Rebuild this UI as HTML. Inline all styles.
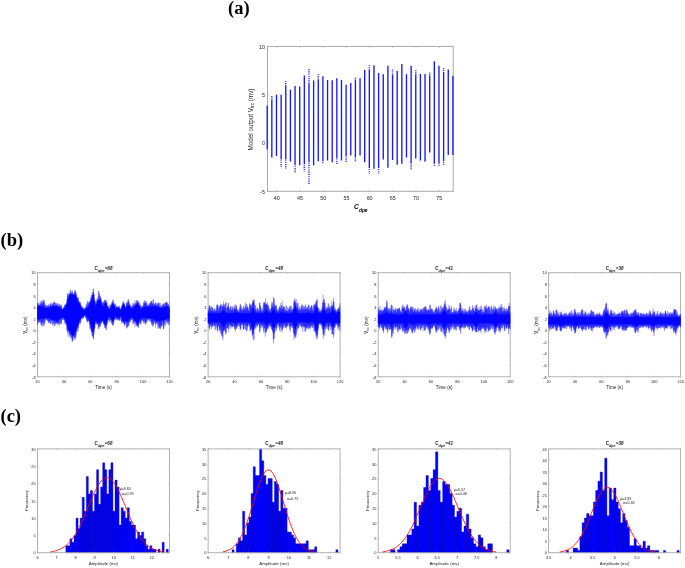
<!DOCTYPE html>
<html><head><meta charset="utf-8"><title>figure</title>
<style>
html,body{margin:0;padding:0;background:#fff;}
body{width:685px;height:568px;overflow:hidden;}
svg{display:block;font-family:"Liberation Sans", sans-serif;will-change:transform;}
</style></head><body>
<svg width="685" height="568" viewBox="0 0 685 568">
<rect width="685" height="568" fill="#fff"/>
<text x="228" y="14" font-family="'Liberation Serif', serif" font-weight="bold" font-size="18.5">(a)</text>
<text x="0.5" y="246" font-family="'Liberation Serif', serif" font-weight="bold" font-size="18.5">(b)</text>
<text x="0.5" y="421.7" font-family="'Liberation Serif', serif" font-weight="bold" font-size="18.5">(c)</text>
<g>
<path d="M276.79 191.30v-1.60M276.79 46.40v1.60M300.00 191.30v-1.60M300.00 46.40v1.60M323.21 191.30v-1.60M323.21 46.40v1.60M346.42 191.30v-1.60M346.42 46.40v1.60M369.63 191.30v-1.60M369.63 46.40v1.60M392.85 191.30v-1.60M392.85 46.40v1.60M416.06 191.30v-1.60M416.06 46.40v1.60M439.27 191.30v-1.60M439.27 46.40v1.60M267.50 191.30h1.60M453.20 191.30h-1.60M267.50 143.00h1.60M453.20 143.00h-1.60M267.50 94.70h1.60M453.20 94.70h-1.60M267.50 46.40h1.60M453.20 46.40h-1.60" stroke="#a9a9a9" stroke-width="0.6" fill="none"/>
<rect x="267.50" y="46.40" width="185.70" height="144.90" fill="none" stroke="#a9a9a9" stroke-width="1.00"/>
<g font-size="5.40" fill="#1e1e1e"><text x="276.79" y="200.30" text-anchor="middle">40</text><text x="300.00" y="200.30" text-anchor="middle">45</text><text x="323.21" y="200.30" text-anchor="middle">50</text><text x="346.42" y="200.30" text-anchor="middle">55</text><text x="369.63" y="200.30" text-anchor="middle">60</text><text x="392.85" y="200.30" text-anchor="middle">65</text><text x="416.06" y="200.30" text-anchor="middle">70</text><text x="439.27" y="200.30" text-anchor="middle">75</text><text x="264.90" y="193.78" text-anchor="end">-5</text><text x="264.90" y="145.48" text-anchor="end">0</text><text x="264.90" y="97.18" text-anchor="end">5</text><text x="264.90" y="48.88" text-anchor="end">10</text></g>
</g>
<path d="M267.20 105.81V149.18M271.84 99.53V157.39M276.49 94.70V156.04M281.13 94.70V159.42M285.77 86.01V159.42M290.41 89.87V161.55M295.06 86.01V165.22M299.70 86.49V165.22M304.34 75.38V164.25M308.98 83.11V162.32M313.62 80.60V165.22M318.27 79.24V161.35M322.91 76.35V161.35M327.55 80.02V160.39M332.19 80.21V162.32M336.84 78.28V158.46M341.48 80.02V160.39M346.12 84.85V156.52M350.76 83.11V155.56M355.41 80.21V157.49M360.05 78.28V155.56M364.69 69.97V162.32M369.33 69.97V168.12M373.98 65.24V168.79M378.62 73.06V168.12M383.26 74.22V159.42M387.90 65.72V167.63M392.55 74.41V159.91M397.19 71.03V164.74M401.83 63.98V163.77M406.47 74.22V157.49M411.12 65.72V163.77M415.76 74.41V158.46M420.40 73.93V160.39M425.04 73.93V161.84M429.69 75.38V152.56M434.33 61.28V163.77M438.97 65.72V163.77M443.62 72.00V161.35M448.26 69.58V154.98M452.90 75.77V154.98" stroke="#1a1af0" stroke-width="1.35" fill="none"/>
<path d="M271.84 96.05v0.9M271.84 97.85v0.9M281.13 160.42v0.9M281.13 162.22v0.9M281.13 164.02v0.9M281.13 165.82v0.9M285.77 81.18v0.9M285.77 82.98v0.9M285.77 84.78v0.9M285.77 160.42v0.9M285.77 162.22v0.9M285.77 164.02v0.9M285.77 165.82v0.9M285.77 167.62v0.9M295.06 166.22v0.9M295.06 168.02v0.9M295.06 169.82v0.9M295.06 171.62v0.9M304.34 165.25v0.9M304.34 167.05v0.9M304.34 168.85v0.9M304.34 170.65v0.9M308.98 69.00v0.9M308.98 70.80v0.9M308.98 72.60v0.9M308.98 74.40v0.9M308.98 76.20v0.9M308.98 78.00v0.9M308.98 79.80v0.9M308.98 81.60v0.9M308.98 163.32v0.9M308.98 165.12v0.9M308.98 166.92v0.9M308.98 168.72v0.9M308.98 170.52v0.9M308.98 172.32v0.9M308.98 174.12v0.9M308.98 175.92v0.9M308.98 177.72v0.9M308.98 179.52v0.9M308.98 181.32v0.9M308.98 183.12v0.9M318.27 73.93v0.9M318.27 75.73v0.9M318.27 77.53v0.9M322.91 162.35v0.9M336.84 159.46v0.9M336.84 161.26v0.9M336.84 163.06v0.9M346.12 157.52v0.9M346.12 159.32v0.9M346.12 161.12v0.9M355.41 77.80v0.9M355.41 79.59v0.9M355.41 158.49v0.9M355.41 160.29v0.9M369.33 65.14v0.9M369.33 66.94v0.9M369.33 68.74v0.9M369.33 169.12v0.9M369.33 170.92v0.9M369.33 172.72v0.9M378.62 169.12v0.9M378.62 170.92v0.9M378.62 172.72v0.9M392.55 69.58v0.9M392.55 71.38v0.9M392.55 73.18v0.9M411.12 164.77v0.9M411.12 166.57v0.9M411.12 168.37v0.9M415.76 69.97v0.9M415.76 71.77v0.9M415.76 73.57v0.9M429.69 72.48v0.9M429.69 74.28v0.9M434.33 164.77v0.9M438.97 164.77v0.9M443.62 68.23v0.9M443.62 70.03v0.9M443.62 162.35v0.9M443.62 164.15v0.9" stroke="#3030f0" stroke-width="1.5" fill="none"/>
<text transform="translate(252.6 119.5) rotate(-90)" text-anchor="middle" font-size="6.3" fill="#1e1e1e">Model output V<tspan font-size="4.6" dy="1.6">trc</tspan><tspan dy="-1.6"> (mv)</tspan></text>
<text x="354" y="208.9" font-size="6.5" font-weight="bold" font-style="italic" fill="#000">C<tspan font-size="4.9" font-style="italic" dx="0.2" dy="2.9">dpe</tspan></text>
<path d="M37.50 376.80v-1.10M37.50 272.70v1.10M63.90 376.80v-1.10M63.90 272.70v1.10M90.30 376.80v-1.10M90.30 272.70v1.10M116.70 376.80v-1.10M116.70 272.70v1.10M143.10 376.80v-1.10M143.10 272.70v1.10M169.50 376.80v-1.10M169.50 272.70v1.10M37.50 376.80h1.10M169.50 376.80h-1.10M37.50 365.23h1.10M169.50 365.23h-1.10M37.50 353.67h1.10M169.50 353.67h-1.10M37.50 342.10h1.10M169.50 342.10h-1.10M37.50 330.53h1.10M169.50 330.53h-1.10M37.50 318.97h1.10M169.50 318.97h-1.10M37.50 307.40h1.10M169.50 307.40h-1.10M37.50 295.83h1.10M169.50 295.83h-1.10M37.50 284.27h1.10M169.50 284.27h-1.10M37.50 272.70h1.10M169.50 272.70h-1.10" stroke="#a9a9a9" stroke-width="0.6" fill="none"/>
<rect x="37.50" y="272.70" width="132.00" height="104.10" fill="none" stroke="#a9a9a9" stroke-width="0.90"/>
<g font-size="3.90" fill="#1e1e1e"><text x="37.50" y="382.80" text-anchor="middle">20</text><text x="63.90" y="382.80" text-anchor="middle">40</text><text x="90.30" y="382.80" text-anchor="middle">60</text><text x="116.70" y="382.80" text-anchor="middle">80</text><text x="143.10" y="382.80" text-anchor="middle">100</text><text x="169.50" y="382.80" text-anchor="middle">120</text><text x="35.70" y="378.59" text-anchor="end">-8</text><text x="35.70" y="367.03" text-anchor="end">-6</text><text x="35.70" y="355.46" text-anchor="end">-4</text><text x="35.70" y="343.89" text-anchor="end">-2</text><text x="35.70" y="332.33" text-anchor="end">0</text><text x="35.70" y="320.76" text-anchor="end">2</text><text x="35.70" y="309.19" text-anchor="end">4</text><text x="35.70" y="297.63" text-anchor="end">6</text><text x="35.70" y="286.06" text-anchor="end">8</text><text x="35.70" y="274.49" text-anchor="end">10</text></g>
<path d="M37.62 306.36V319.00M38.12 305.73V319.87M38.62 305.76V319.61M39.12 305.98V319.14M39.62 306.08V319.23M40.12 306.03V318.95M40.62 306.43V318.86M41.12 306.36V318.69M41.62 306.41V318.63M42.12 306.52V318.83M42.62 306.82V318.58M43.12 307.28V318.50M43.62 307.41V318.45M44.12 307.65V318.14M44.62 307.83V317.99M45.12 307.58V317.71M45.62 308.00V318.02M46.12 307.75V317.76M46.62 308.15V318.08M47.12 308.12V318.23M47.62 308.18V318.29M48.12 308.23V318.06M48.62 308.31V317.88M49.12 308.17V318.29M49.62 307.97V318.57M50.12 307.64V318.75M50.62 307.68V319.02M51.12 307.26V318.78M51.62 307.10V319.40M52.12 306.73V319.77M52.62 306.36V319.81M53.12 306.15V320.29M53.62 306.45V319.87M54.12 306.29V320.06M54.62 306.26V320.10M55.12 305.93V320.27M55.62 306.41V320.22M56.12 306.31V320.87M56.62 306.15V320.74M57.12 306.10V320.49M57.62 306.92V320.77M58.12 307.00V320.26M58.62 307.44V319.75M59.12 307.57V318.93M59.62 308.19V318.99M60.12 308.11V318.41M60.62 308.84V318.40M61.12 309.04V317.83M61.62 309.42V317.50M62.12 309.91V317.12M62.62 309.96V316.92M63.12 309.44V317.17M63.62 309.07V317.98M64.12 308.40V318.23M64.62 307.89V318.43M65.12 307.04V319.03M65.62 306.10V320.16M66.12 304.99V321.44M66.62 303.82V323.38M67.12 302.52V324.91M67.62 301.25V327.11M68.12 299.41V328.57M68.62 298.46V330.19M69.12 296.65V330.91M69.62 294.62V331.48M70.12 294.71V332.02M70.62 294.45V332.87M71.12 293.74V333.05M71.62 295.33V335.14M72.12 294.91V335.24M72.62 294.56V334.14M73.12 295.33V335.96M73.62 294.74V335.28M74.12 295.51V333.31M74.62 294.47V333.85M75.12 294.58V332.01M75.62 295.89V331.61M76.12 297.17V330.66M76.62 299.08V328.26M77.12 300.55V326.42M77.62 301.35V325.50M78.12 301.90V324.52M78.62 303.36V322.47M79.12 303.87V321.26M79.62 304.79V320.14M80.12 305.92V319.08M80.62 306.65V318.38M81.12 307.68V317.87M81.62 307.91V317.22M82.12 308.67V317.00M82.62 309.07V316.44M83.12 309.37V315.92M83.62 309.76V315.57M84.12 309.80V315.19M84.62 310.25V314.65M85.12 310.25V314.61M85.62 309.45V315.06M86.12 308.81V315.80M86.62 308.54V316.19M87.12 307.79V316.91M87.62 307.55V317.59M88.12 307.14V318.13M88.62 306.50V318.70M89.12 305.29V319.62M89.62 304.63V320.49M90.12 303.93V321.21M90.62 302.05V322.98M91.12 301.14V325.10M91.62 300.12V326.63M92.12 298.96V328.55M92.62 296.41V330.93M93.12 294.69V331.58M93.62 294.76V331.69M94.12 298.84V329.20M94.62 302.45V324.77M95.12 304.57V321.88M95.62 307.06V320.14M96.12 305.68V320.36M96.62 303.83V320.83M97.12 302.38V321.93M97.62 301.06V322.52M98.12 300.82V322.63M98.62 300.15V322.06M99.12 299.84V322.23M99.62 299.85V322.82M100.12 300.20V322.69M100.62 300.97V321.72M101.12 303.34V321.29M101.62 304.32V320.17M102.12 305.97V319.43M102.62 307.15V319.02M103.12 306.32V319.88M103.62 305.34V320.77M104.12 305.18V322.33M104.62 303.89V323.62M105.12 303.46V324.20M105.62 302.07V326.32M106.12 303.96V323.59M106.62 305.56V322.68M107.12 306.51V321.01M107.62 307.38V319.11M108.12 308.30V318.38M108.62 308.97V317.42M109.12 309.51V316.63M109.62 309.34V316.92M110.12 308.52V317.37M110.62 308.03V317.62M111.12 307.54V318.02M111.62 306.24V318.92M112.12 304.87V320.05M112.62 303.68V321.31M113.12 303.57V321.46M113.62 304.60V319.70M114.12 306.16V318.62M114.62 307.47V317.66M115.12 308.13V316.60M115.62 308.78V316.06M116.12 308.48V316.31M116.62 308.23V316.98M117.12 307.93V317.48M117.62 307.77V317.96M118.12 307.60V318.44M118.62 307.79V317.95M119.12 308.50V317.64M119.62 309.12V316.86M120.12 309.63V316.24M120.62 310.18V315.94M121.12 310.16V315.97M121.62 308.71V316.69M122.12 307.29V317.87M122.62 305.10V319.50M123.12 303.41V321.53M123.62 304.08V321.24M124.12 305.41V321.24M124.62 306.80V321.28M125.12 307.52V320.73M125.62 308.72V321.03M126.12 307.83V320.97M126.62 307.18V321.18M127.12 306.35V321.09M127.62 305.40V321.30M128.12 304.72V321.38M128.62 305.53V320.21M129.12 306.01V319.49M129.62 306.75V318.96M130.12 307.69V318.11M130.62 308.26V317.45M131.12 308.80V317.27M131.62 308.61V316.95M132.12 308.53V317.66M132.62 308.35V317.83M133.12 308.24V318.17M133.62 307.85V318.39M134.12 306.98V319.26M134.62 306.84V319.93M135.12 306.08V320.59M135.62 305.76V321.05M136.12 304.86V321.94M136.62 304.89V322.08M137.12 303.95V323.56M137.62 303.11V324.27M138.12 304.16V322.71M138.62 305.10V322.39M139.12 306.41V320.89M139.62 306.88V319.75M140.12 307.72V319.11M140.62 308.28V318.20M141.12 308.39V317.95M141.62 308.34V317.96M142.12 308.11V317.97M142.62 308.13V318.16M143.12 307.84V318.31M143.62 307.74V318.35M144.12 307.41V318.01M144.62 307.42V318.05M145.12 306.90V318.05M145.62 307.11V318.01M146.12 307.23V318.00M146.62 306.86V318.21M147.12 306.78V318.03M147.62 306.88V318.32M148.12 307.02V318.23M148.62 306.92V318.12M149.12 307.06V318.14M149.62 306.62V318.07M150.12 306.92V318.08M150.62 306.52V318.26M151.12 306.41V318.47M151.62 306.67V318.66M152.12 306.54V318.94M152.62 306.82V318.66M153.12 306.63V319.22M153.62 306.49V319.28M154.12 306.82V319.33M154.62 306.87V319.44M155.12 306.68V319.85M155.62 306.88V320.53M156.12 306.51V320.67M156.62 306.73V321.02M157.12 306.78V320.65M157.62 306.76V320.72M158.12 306.99V320.50M158.62 307.50V321.08M159.12 307.46V320.76M159.62 307.93V320.53M160.12 307.85V320.67M160.62 308.23V320.54M161.12 308.22V320.71M161.62 308.41V320.22M162.12 307.97V320.15M162.62 307.89V320.48M163.12 307.83V320.20M163.62 307.35V319.60M164.12 307.43V320.16M164.62 307.48V319.96M165.12 306.99V319.30M165.62 306.92V319.15M166.12 306.80V319.14M166.62 306.76V319.06M167.12 306.52V318.58M167.62 306.95V319.05M168.12 307.73V318.87M168.62 308.06V318.81M169.12 308.68V318.73" fill="none" stroke="#0000ff" stroke-width="0.75"/>
<path d="M37.62 302.83V325.18M37.88 302.76V321.79M38.12 304.74V322.72M38.38 304.27V320.84M38.62 303.47V322.78M38.88 305.27V322.71M39.12 305.36V319.50M39.38 305.41V322.45M39.62 304.85V321.50M39.88 301.98V319.71M40.12 305.62V322.09M40.38 303.97V320.12M40.62 303.35V324.72M40.88 301.06V321.97M41.12 305.48V323.34M41.38 301.33V322.80M41.62 303.71V324.76M41.88 302.92V326.02M42.12 299.63V326.61M42.38 304.24V322.19M42.62 301.67V323.54M42.88 302.67V318.91M43.12 302.46V322.80M43.38 300.17V326.38M43.62 304.60V320.56M43.88 299.85V325.71M44.12 300.16V324.34M44.38 301.73V321.74M44.62 306.37V324.24M44.88 303.42V320.54M45.12 304.75V322.31M45.38 305.15V318.31M45.62 307.26V318.20M45.88 305.29V320.09M46.12 305.48V319.25M46.38 307.46V318.61M46.62 306.82V320.04M46.88 307.75V319.52M47.12 305.14V320.45M47.38 305.39V320.74M47.62 305.55V320.83M47.88 306.62V318.28M48.12 306.03V320.65M48.38 305.52V323.00M48.62 305.55V321.28M48.88 303.97V323.00M49.12 305.27V319.38M49.38 306.60V322.58M49.62 306.17V321.02M49.88 307.75V322.52M50.12 304.67V322.73M50.38 304.09V323.93M50.62 304.56V319.89M50.88 302.42V324.19M51.12 303.09V321.00M51.38 305.46V320.78M51.62 306.74V320.34M51.88 305.87V322.67M52.12 305.03V323.85M52.38 304.20V325.58M52.62 303.85V320.14M52.88 302.69V320.94M53.12 305.37V321.15M53.38 303.19V323.15M53.62 302.96V323.22M53.88 300.98V324.37M54.12 302.62V326.60M54.38 305.88V325.87M54.62 301.94V322.80M54.88 305.37V320.78M55.12 305.46V322.73M55.38 302.66V325.22M55.62 303.14V323.94M55.88 305.17V321.11M56.12 305.00V322.97M56.38 302.75V322.72M56.62 305.18V323.46M56.88 304.23V322.99M57.12 305.79V324.81M57.38 303.09V322.81M57.62 305.64V323.43M57.88 304.28V324.05M58.12 306.74V324.15M58.38 305.50V322.65M58.62 303.69V322.65M58.88 306.56V325.09M59.12 305.62V323.29M59.38 303.78V325.57M59.62 304.89V321.27M59.88 306.52V319.86M60.12 306.29V322.05M60.38 306.96V319.78M60.62 304.57V323.88M60.88 306.20V324.02M61.12 304.60V323.03M61.38 305.54V319.55M61.62 305.65V323.88M61.88 308.16V318.23M62.12 308.65V320.11M62.38 308.96V319.68M62.62 309.22V318.21M62.88 309.70V317.67M63.12 307.63V320.07M63.38 307.65V319.19M63.62 308.43V318.26M63.88 306.63V319.92M64.12 307.56V319.14M64.38 307.04V319.53M64.62 304.86V321.36M64.88 305.14V323.80M65.12 305.11V324.03M65.38 304.55V321.13M65.62 305.43V322.71M65.88 304.66V322.73M66.12 304.16V324.91M66.38 303.76V322.52M66.62 303.09V325.83M66.88 299.43V330.49M67.12 299.11V329.96M67.38 294.83V329.79M67.62 293.11V333.02M67.88 296.50V331.91M68.12 293.90V336.79M68.38 294.18V330.60M68.62 296.95V331.70M68.88 296.25V331.14M69.12 293.11V334.21M69.38 294.57V332.57M69.62 293.08V335.08M69.88 294.49V336.58M70.12 291.41V338.01M70.38 289.63V335.39M70.62 290.36V333.58M70.88 294.37V335.24M71.12 292.96V337.46M71.38 293.14V337.66M71.62 291.62V334.97M71.88 294.20V338.84M72.12 293.09V340.85M72.38 290.36V342.08M72.62 292.30V340.57M72.88 293.17V340.50M73.12 292.69V338.63M73.38 294.26V336.83M73.62 295.14V335.44M73.88 294.39V336.93M74.12 294.54V335.11M74.38 294.45V336.68M74.62 291.80V339.94M74.88 289.61V337.86M75.12 291.15V337.38M75.38 290.69V339.38M75.62 292.36V335.25M75.88 292.28V337.58M76.12 293.17V335.35M76.38 295.07V331.72M76.62 295.52V330.37M76.88 297.34V328.56M77.12 299.05V331.52M77.38 297.23V328.08M77.62 297.38V325.95M77.88 299.60V331.96M78.12 297.41V329.29M78.38 297.67V328.12M78.62 302.16V326.67M78.88 301.06V322.45M79.12 300.59V322.14M79.38 301.99V323.85M79.62 302.71V321.19M79.88 302.28V323.89M80.12 301.91V324.58M80.38 302.38V322.97M80.62 304.19V321.51M80.88 306.79V318.38M81.12 304.99V318.63M81.38 304.92V320.54M81.62 307.64V317.89M81.88 307.39V318.98M82.12 308.09V317.07M82.38 306.87V318.95M82.62 306.39V317.17M82.88 308.72V318.02M83.12 307.77V318.26M83.38 308.55V318.17M83.62 308.37V317.82M83.88 308.16V316.61M84.12 309.81V315.67M84.38 309.65V315.15M84.62 308.88V316.30M84.88 308.41V316.93M85.12 307.36V314.90M85.38 307.40V317.79M85.62 308.20V316.46M85.88 306.97V317.77M86.12 304.57V318.20M86.38 305.17V318.70M86.62 307.22V320.51M86.88 302.96V320.71M87.12 304.25V320.56M87.38 301.12V322.71M87.62 306.68V321.85M87.88 301.47V320.82M88.12 306.33V319.19M88.38 304.30V320.67M88.62 302.15V320.87M88.88 302.06V321.41M89.12 303.48V321.43M89.38 303.00V324.20M89.62 301.00V324.23M89.88 302.69V328.69M90.12 300.77V328.77M90.38 301.24V325.88M90.62 298.63V328.11M90.88 298.34V330.93M91.12 295.41V329.35M91.38 296.67V331.88M91.62 298.57V331.91M91.88 295.02V334.20M92.12 292.15V336.44M92.38 295.23V331.14M92.62 294.23V335.90M92.88 291.80V335.66M93.12 292.27V337.80M93.38 288.68V338.47M93.62 288.87V339.61M93.88 294.00V334.23M94.12 294.53V333.51M94.38 299.32V328.25M94.62 301.27V327.65M94.88 300.67V328.20M95.12 300.97V324.33M95.38 301.57V321.61M95.62 306.16V323.16M95.88 303.62V323.42M96.12 302.86V324.18M96.38 303.47V323.20M96.62 299.06V324.65M96.88 300.32V321.86M97.12 302.19V323.74M97.38 298.26V323.97M97.62 300.65V324.20M97.88 299.89V324.59M98.12 296.34V325.24M98.38 291.10V328.95M98.62 298.99V327.34M98.88 291.02V329.02M99.12 293.09V326.65M99.38 298.11V324.38M99.62 293.93V327.21M99.88 296.13V326.28M100.12 296.42V326.62M100.38 296.63V325.58M100.62 298.65V322.00M100.88 297.85V324.07M101.12 301.88V322.25M101.38 299.30V324.00M101.62 301.93V322.38M101.88 301.14V321.69M102.12 302.10V321.68M102.38 303.29V320.93M102.62 306.25V321.09M102.88 305.00V321.93M103.12 302.67V322.98M103.38 301.77V322.74M103.62 303.50V324.88M103.88 301.22V323.59M104.12 303.37V324.67M104.38 302.74V325.15M104.62 299.55V327.78M104.88 300.07V324.61M105.12 300.31V328.54M105.38 301.35V326.33M105.62 300.59V327.95M105.88 301.70V326.16M106.12 302.79V329.75M106.38 299.81V330.03M106.62 301.69V325.54M106.88 302.41V322.68M107.12 303.60V323.57M107.38 306.12V320.64M107.62 306.01V324.55M107.88 305.98V320.24M108.12 306.45V321.00M108.38 305.90V320.38M108.62 308.04V317.88M108.88 308.59V317.92M109.12 308.18V317.55M109.38 308.74V319.51M109.62 308.25V322.04M109.88 304.94V320.23M110.12 304.38V322.38M110.38 306.35V318.87M110.62 305.28V320.47M110.88 307.38V319.92M111.12 305.21V319.91M111.38 303.35V323.29M111.62 304.09V323.74M111.88 303.09V320.94M112.12 301.72V321.92M112.38 301.49V324.36M112.62 302.64V325.80M112.88 299.29V324.85M113.12 302.46V325.58M113.38 300.24V324.33M113.62 303.92V322.68M113.88 304.16V322.07M114.12 305.07V319.78M114.38 303.06V319.42M114.62 306.13V319.81M114.88 305.16V320.65M115.12 303.69V318.50M115.38 303.95V318.71M115.62 308.17V316.54M115.88 305.89V319.59M116.12 306.07V318.44M116.38 306.52V318.88M116.62 307.26V317.70M116.88 306.53V320.02M117.12 307.89V320.50M117.38 307.59V319.53M117.62 306.32V318.27M117.88 307.37V319.27M118.12 306.81V320.67M118.38 306.13V319.23M118.62 307.17V318.80M118.88 307.67V320.33M119.12 305.49V318.49M119.38 307.44V319.79M119.62 307.93V320.48M119.88 306.30V321.25M120.12 309.39V320.34M120.38 309.08V318.42M120.62 308.95V316.15M120.88 308.83V317.91M121.12 307.64V319.42M121.38 308.20V321.19M121.62 305.87V322.08M121.88 307.13V323.87M122.12 304.97V320.88M122.38 305.91V322.25M122.62 304.70V321.43M122.88 301.49V322.08M123.12 302.68V322.77M123.38 302.94V322.34M123.62 301.04V323.44M123.88 303.62V323.01M124.12 303.69V323.94M124.38 305.28V326.29M124.62 303.45V325.04M124.88 305.07V324.21M125.12 306.43V324.77M125.38 306.73V321.75M125.62 308.39V322.98M125.88 307.64V321.44M126.12 305.78V323.80M126.38 303.09V328.44M126.62 302.30V322.96M126.88 302.32V328.29M127.12 303.38V327.05M127.38 305.78V323.24M127.62 300.08V327.23M127.88 303.31V326.60M128.12 301.94V326.19M128.38 298.87V326.18M128.62 300.01V322.73M128.88 301.28V322.50M129.12 302.99V322.27M129.38 304.94V325.16M129.62 306.54V320.91M129.88 304.95V319.05M130.12 303.69V322.41M130.38 306.36V319.08M130.62 305.02V321.58M130.88 307.30V320.08M131.12 307.07V320.34M131.38 306.09V319.90M131.62 308.44V319.14M131.88 306.09V318.54M132.12 307.49V318.24M132.38 306.69V318.58M132.62 305.85V320.26M132.88 303.30V324.01M133.12 302.79V322.50M133.38 305.76V324.16M133.62 306.50V321.75M133.88 304.00V319.74M134.12 304.04V323.26M134.38 305.38V321.99M134.62 305.55V321.09M134.88 300.29V327.37M135.12 302.93V323.15M135.38 305.51V321.99M135.62 303.70V321.77M135.88 303.14V324.91M136.12 302.63V325.02M136.38 300.10V322.57M136.62 300.65V326.31M136.88 303.85V323.92M137.12 303.51V326.23M137.38 302.41V325.56M137.62 300.55V326.34M137.88 300.72V326.61M138.12 300.68V327.29M138.38 302.17V327.71M138.62 304.50V325.26M138.88 302.77V321.97M139.12 305.82V324.47M139.38 302.67V322.85M139.62 305.42V321.39M139.88 305.05V321.18M140.12 303.61V321.05M140.38 305.43V324.47M140.62 307.59V323.90M140.88 306.02V324.05M141.12 305.54V322.41M141.38 308.20V319.45M141.62 307.32V320.03M141.88 307.90V321.10M142.12 305.57V320.18M142.38 306.36V320.35M142.62 306.33V321.01M142.88 306.88V318.49M143.12 305.33V319.44M143.38 306.42V320.96M143.62 302.37V322.70M143.88 301.61V322.85M144.12 303.24V323.72M144.38 302.96V320.12M144.62 300.34V320.98M144.88 303.54V322.11M145.12 300.25V321.93M145.38 303.77V324.48M145.62 301.81V324.95M145.88 304.13V323.00M146.12 302.77V318.96M146.38 301.12V320.87M146.62 306.14V322.91M146.88 302.93V322.62M147.12 304.98V320.26M147.38 305.49V319.44M147.62 305.40V319.60M147.88 306.51V320.43M148.12 306.12V320.67M148.38 304.73V319.21M148.62 306.48V318.68M148.88 304.65V318.10M149.12 303.80V318.42M149.38 303.43V320.74M149.62 303.35V320.28M149.88 303.28V321.85M150.12 305.71V318.50M150.38 302.62V319.58M150.62 305.46V321.35M150.88 301.96V321.70M151.12 300.70V319.44M151.38 301.05V322.49M151.62 301.27V324.48M151.88 303.48V325.14M152.12 301.38V323.60M152.38 303.17V321.61M152.62 304.49V326.64M152.88 304.25V324.29M153.12 299.66V326.19M153.38 299.03V325.16M153.62 304.14V321.43M153.88 305.95V322.77M154.12 304.16V320.83M154.38 305.26V321.66M154.62 305.08V321.71M154.88 302.93V323.44M155.12 303.24V323.52M155.38 302.78V324.47M155.62 304.20V327.58M155.88 302.43V321.08M156.12 305.19V321.36M156.38 305.63V323.45M156.62 304.80V323.49M156.88 302.91V323.63M157.12 305.37V322.85M157.38 304.34V323.60M157.62 306.05V321.77M157.88 302.73V327.04M158.12 303.86V328.91M158.38 303.09V325.71M158.62 301.98V321.92M158.88 303.66V328.30M159.12 306.74V323.68M159.38 306.52V326.33M159.62 303.01V328.14M159.88 307.27V328.33M160.12 305.70V329.00M160.38 303.16V326.47M160.62 307.79V328.50M160.88 306.99V325.62M161.12 306.74V324.28M161.38 307.19V326.22M161.62 305.28V324.87M161.88 304.88V327.40M162.12 306.48V326.01M162.38 307.44V321.42M162.62 305.32V321.39M162.88 304.26V323.45M163.12 304.00V325.21M163.38 305.73V329.35M163.62 303.24V329.11M163.88 303.25V328.08M164.12 304.56V325.59M164.38 303.18V324.42M164.62 305.63V321.28M164.88 305.72V320.96M165.12 306.10V319.68M165.38 302.99V325.93M165.62 301.92V322.41M165.88 303.15V320.23M166.12 306.16V320.10M166.38 301.93V321.34M166.62 301.93V324.16M166.88 303.01V319.34M167.12 303.32V321.10M167.38 302.22V323.51M167.62 305.75V322.65M167.88 304.68V321.50M168.12 304.64V321.52M168.38 305.17V320.64M168.62 303.74V324.89M168.88 305.54V324.89M169.12 306.07V323.49M169.38 307.38V320.96" fill="none" stroke="#0000ff" stroke-width="0.40"/>
<text x="103.50" y="270.1" text-anchor="middle" font-size="4.6" font-weight="bold" fill="#222">C<tspan font-size="3.8" dy="1.6" font-style="italic">dpe</tspan><tspan dy="-1.6" font-style="italic">=68</tspan></text>
<text x="103.50" y="389" text-anchor="middle" font-size="4.6" fill="#1e1e1e">Time (s)</text>
<text transform="translate(26.90 325.2) rotate(-90)" text-anchor="middle" font-size="4.6" fill="#1e1e1e"><tspan font-weight="bold">V</tspan><tspan font-size="3.4" dy="1.5">trc</tspan><tspan dy="-1.5"> (mv)</tspan></text>
<path d="M208.10 376.80v-1.10M208.10 272.70v1.10M234.50 376.80v-1.10M234.50 272.70v1.10M260.90 376.80v-1.10M260.90 272.70v1.10M287.30 376.80v-1.10M287.30 272.70v1.10M313.70 376.80v-1.10M313.70 272.70v1.10M340.10 376.80v-1.10M340.10 272.70v1.10M208.10 376.80h1.10M340.10 376.80h-1.10M208.10 365.23h1.10M340.10 365.23h-1.10M208.10 353.67h1.10M340.10 353.67h-1.10M208.10 342.10h1.10M340.10 342.10h-1.10M208.10 330.53h1.10M340.10 330.53h-1.10M208.10 318.97h1.10M340.10 318.97h-1.10M208.10 307.40h1.10M340.10 307.40h-1.10M208.10 295.83h1.10M340.10 295.83h-1.10M208.10 284.27h1.10M340.10 284.27h-1.10M208.10 272.70h1.10M340.10 272.70h-1.10" stroke="#a9a9a9" stroke-width="0.6" fill="none"/>
<rect x="208.10" y="272.70" width="132.00" height="104.10" fill="none" stroke="#a9a9a9" stroke-width="0.90"/>
<g font-size="3.90" fill="#1e1e1e"><text x="208.10" y="382.80" text-anchor="middle">20</text><text x="234.50" y="382.80" text-anchor="middle">40</text><text x="260.90" y="382.80" text-anchor="middle">60</text><text x="287.30" y="382.80" text-anchor="middle">80</text><text x="313.70" y="382.80" text-anchor="middle">100</text><text x="340.10" y="382.80" text-anchor="middle">120</text><text x="206.30" y="378.59" text-anchor="end">-8</text><text x="206.30" y="367.03" text-anchor="end">-6</text><text x="206.30" y="355.46" text-anchor="end">-4</text><text x="206.30" y="343.89" text-anchor="end">-2</text><text x="206.30" y="332.33" text-anchor="end">0</text><text x="206.30" y="320.76" text-anchor="end">2</text><text x="206.30" y="309.19" text-anchor="end">4</text><text x="206.30" y="297.63" text-anchor="end">6</text><text x="206.30" y="286.06" text-anchor="end">8</text><text x="206.30" y="274.49" text-anchor="end">10</text></g>
<path d="M208.22 312.95V322.53M208.72 312.77V322.61M209.22 312.47V322.83M209.72 312.68V322.77M210.22 312.89V322.46M210.72 313.04V322.61M211.22 313.29V322.23M211.72 313.36V322.39M212.22 313.50V322.31M212.72 313.49V322.04M213.22 313.55V322.05M213.72 313.44V322.07M214.22 313.21V322.09M214.72 313.25V322.14M215.22 313.43V322.30M215.72 313.21V322.28M216.22 313.30V322.25M216.72 313.30V322.16M217.22 313.41V322.08M217.72 313.53V322.23M218.22 313.23V322.09M218.72 313.38V321.97M219.22 313.51V322.03M219.72 313.32V322.25M220.22 313.05V322.33M220.72 313.15V323.03M221.22 312.78V323.20M221.72 312.19V324.16M222.22 311.88V325.25M222.72 311.26V326.37M223.22 310.54V326.74M223.72 310.57V326.66M224.22 311.50V326.28M224.72 311.64V325.27M225.22 312.26V323.92M225.72 312.78V323.32M226.22 313.22V322.79M226.72 313.13V322.66M227.22 313.24V322.46M227.72 313.25V322.27M228.22 313.56V321.99M228.72 313.22V322.02M229.22 313.22V322.08M229.72 313.36V322.01M230.22 313.42V321.89M230.72 313.49V322.04M231.22 313.44V322.02M231.72 313.56V321.99M232.22 313.57V322.21M232.72 313.10V322.28M233.22 313.02V322.21M233.72 313.14V322.32M234.22 312.84V322.64M234.72 312.11V322.79M235.22 311.76V323.40M235.72 311.56V323.58M236.22 312.07V323.37M236.72 312.61V322.96M237.22 312.55V322.71M237.72 313.02V322.35M238.22 313.00V322.46M238.72 313.22V322.03M239.22 313.28V322.21M239.72 313.23V321.91M240.22 313.47V321.96M240.72 313.55V321.95M241.22 313.55V322.22M241.72 313.59V322.22M242.22 313.26V322.06M242.72 313.18V322.28M243.22 313.59V321.92M243.72 313.48V322.22M244.22 313.60V322.18M244.72 313.34V322.31M245.22 313.36V322.14M245.72 313.34V321.96M246.22 313.58V322.16M246.72 313.36V322.26M247.22 313.53V322.01M247.72 313.43V321.97M248.22 313.20V322.30M248.72 313.59V322.08M249.22 313.50V322.26M249.72 313.58V322.25M250.22 313.53V322.16M250.72 313.10V322.65M251.22 312.62V322.98M251.72 311.71V324.36M252.22 309.27V327.64M252.72 307.79V329.82M253.22 307.56V330.23M253.72 308.94V328.83M254.22 310.78V326.19M254.72 312.02V323.52M255.22 313.09V322.52M255.72 313.22V322.53M256.23 313.47V322.03M256.73 313.43V322.17M257.23 313.43V322.23M257.73 313.22V321.99M258.23 313.18V322.19M258.73 313.48V322.12M259.23 313.47V321.95M259.73 313.53V321.90M260.23 313.48V322.08M260.73 313.41V322.31M261.23 313.58V322.05M261.73 313.18V322.13M262.23 313.56V322.16M262.73 313.44V322.21M263.23 313.22V322.22M263.73 313.26V322.36M264.23 312.86V322.63M264.73 312.62V322.97M265.23 311.40V323.55M265.73 310.25V324.68M266.23 310.04V325.05M266.73 310.15V325.39M267.23 310.81V324.83M267.73 311.84V323.89M268.23 312.73V322.88M268.73 312.82V322.67M269.23 313.08V322.14M269.73 313.11V322.20M270.23 313.38V322.20M270.73 313.43V322.44M271.23 313.16V322.52M271.73 312.56V323.28M272.23 311.74V324.61M272.73 310.50V326.25M273.23 309.91V327.21M273.73 309.66V327.87M274.23 309.91V327.19M274.73 311.05V325.28M275.23 312.53V323.48M275.73 312.81V322.65M276.23 313.31V322.31M276.73 313.36V322.41M277.23 313.49V322.10M277.73 313.28V322.19M278.23 313.43V322.17M278.73 313.10V321.99M279.23 313.12V322.06M279.73 313.03V322.35M280.23 312.82V322.60M280.73 312.63V322.58M281.23 312.19V322.96M281.73 311.93V323.05M282.23 312.17V322.87M282.73 312.28V322.62M283.23 312.68V322.61M283.73 312.75V322.17M284.23 313.36V322.05M284.73 313.31V322.07M285.23 313.23V322.24M285.73 313.22V322.06M286.23 313.29V322.29M286.73 313.35V322.17M287.23 313.43V322.02M287.73 313.32V321.97M288.23 313.29V322.24M288.73 313.28V322.03M289.23 313.36V321.94M289.73 313.26V322.04M290.23 313.60V322.15M290.73 313.32V321.96M291.23 313.20V322.08M291.73 313.22V322.34M292.23 313.16V322.13M292.73 312.78V322.50M293.23 312.36V323.24M293.73 311.00V324.76M294.23 308.67V326.71M294.73 307.77V328.38M295.23 306.78V328.72M295.73 307.97V328.29M296.23 309.79V325.86M296.73 311.50V324.17M297.23 312.90V323.00M297.73 313.31V322.54M298.23 313.20V322.32M298.73 313.20V321.95M299.23 313.55V321.91M299.73 313.59V322.15M300.23 313.50V321.91M300.73 313.41V322.04M301.23 313.31V322.03M301.73 313.26V321.93M302.23 313.48V321.91M302.73 313.33V322.03M303.23 313.26V322.29M303.73 313.45V322.30M304.23 313.22V322.31M304.73 313.36V322.15M305.23 313.36V322.19M305.73 313.06V322.79M306.23 312.97V322.96M306.73 312.61V322.83M307.23 312.50V323.06M307.73 312.21V322.92M308.23 312.68V322.81M308.73 312.95V322.94M309.23 313.08V322.58M309.73 313.09V322.42M310.23 313.13V322.21M310.73 313.44V322.02M311.23 313.36V322.02M311.73 313.49V322.09M312.23 313.40V322.28M312.73 313.52V321.97M313.23 313.16V322.33M313.73 313.20V322.15M314.23 313.14V322.81M314.73 312.70V323.70M315.23 310.97V325.82M315.73 308.37V329.27M316.23 307.43V332.04M316.73 307.12V330.96M317.23 308.90V328.70M317.73 310.74V325.53M318.23 312.29V323.27M318.73 313.18V322.80M319.23 313.11V322.06M319.73 313.55V321.96M320.23 313.42V322.13M320.73 313.41V322.20M321.23 313.36V322.11M321.73 313.07V322.71M322.23 312.43V322.96M322.73 310.99V324.41M323.23 309.92V325.35M323.73 308.50V326.57M324.23 309.65V325.51M324.73 310.87V324.19M325.23 312.41V323.28M325.73 313.02V322.66M326.23 313.41V322.45M326.73 313.42V322.29M327.23 313.53V322.23M327.73 313.51V321.93M328.23 313.24V322.27M328.73 313.54V322.20M329.23 313.47V321.94M329.73 313.10V322.26M330.23 313.00V322.50M330.73 312.82V322.72M331.23 312.25V323.51M331.73 310.56V324.86M332.23 309.30V326.18M332.73 308.92V327.22M333.23 308.90V326.30M333.73 310.00V325.43M334.23 311.65V324.13M334.73 312.90V322.68M335.23 312.83V322.61M335.73 313.20V322.06M336.23 313.09V322.30M336.73 313.06V322.13M337.23 312.76V322.71M337.73 312.48V322.59M338.23 311.95V323.14M338.73 311.67V323.22M339.23 312.01V323.34M339.73 311.99V323.04" fill="none" stroke="#0000ff" stroke-width="0.75"/>
<path d="M208.22 308.14V323.58M208.47 310.37V323.92M208.72 310.76V323.97M208.97 310.53V328.03M209.22 305.80V326.54M209.47 305.70V329.67M209.72 305.10V328.79M209.97 306.31V324.50M210.22 307.20V325.72M210.47 310.02V324.84M210.72 308.98V325.01M210.97 311.12V327.14M211.22 308.02V324.02M211.47 311.64V329.15M211.72 306.15V326.49M211.97 306.83V325.73M212.22 311.09V327.12M212.47 307.83V324.96M212.72 307.51V327.25M212.97 312.13V325.30M213.22 309.97V325.04M213.47 311.13V323.45M213.72 310.51V323.42M213.97 308.57V326.67M214.22 308.85V325.84M214.47 311.48V324.87M214.72 310.22V326.08M214.97 308.17V329.08M215.22 312.01V325.23M215.47 310.67V330.15M215.72 309.88V323.20M215.97 311.74V325.52M216.22 311.60V323.94M216.47 308.77V324.53M216.72 304.89V327.53M216.97 306.50V329.90M217.22 305.04V328.62M217.47 304.18V330.70M217.72 304.83V332.35M217.97 305.66V325.82M218.22 312.48V325.45M218.47 307.41V326.65M218.72 311.10V325.75M218.97 310.38V326.01M219.22 307.30V328.11M219.47 306.56V329.69M219.72 305.74V330.82M219.97 309.10V330.84M220.22 304.79V330.37M220.47 305.90V328.08M220.72 303.30V333.59M220.97 305.40V333.47M221.22 309.70V328.48M221.47 310.81V336.36M221.72 304.39V329.91M221.97 306.28V333.96M222.22 306.06V334.51M222.47 306.32V337.48M222.72 307.06V336.55M222.97 304.12V340.33M223.22 306.04V330.51M223.47 301.47V330.04M223.72 307.60V331.24M223.97 305.28V331.54M224.22 305.16V330.97M224.47 306.69V328.79M224.72 304.00V329.74M224.97 307.08V330.63M225.22 309.14V327.56M225.47 303.67V333.47M225.72 302.25V331.67M225.97 308.11V334.65M226.22 302.26V333.04M226.47 311.42V328.42M226.72 312.45V324.71M226.97 307.72V325.99M227.22 307.69V327.78M227.47 306.67V328.22M227.72 306.25V328.18M227.97 306.37V326.39M228.22 303.10V328.98M228.47 303.05V325.56M228.72 307.44V331.81M228.97 308.75V328.51M229.22 308.66V323.78M229.47 311.49V324.53M229.72 309.30V325.21M229.97 306.70V324.96M230.22 312.25V327.19M230.47 306.53V325.10M230.72 306.53V324.96M230.97 308.55V328.77M231.22 310.20V326.28M231.47 310.27V325.67M231.72 310.43V325.87M231.97 305.92V327.44M232.22 306.49V326.79M232.47 309.14V327.00M232.72 307.31V326.26M232.97 309.53V324.64M233.22 311.78V326.47M233.47 310.33V324.26M233.72 309.28V324.63M233.97 305.52V326.12M234.22 308.92V328.92M234.47 308.15V329.14M234.72 306.41V326.50M234.97 308.35V326.29M235.22 303.94V329.59M235.47 308.93V331.46M235.72 307.06V326.79M235.97 309.94V327.36M236.22 305.05V328.73M236.47 305.33V328.29M236.72 308.33V326.04M236.97 310.02V328.90M237.22 308.72V325.21M237.47 311.32V325.31M237.72 310.29V325.24M237.97 309.57V326.66M238.22 311.18V323.56M238.47 311.73V323.30M238.72 310.76V325.38M238.97 311.72V326.97M239.22 309.17V323.06M239.47 311.93V325.98M239.72 306.80V323.60M239.97 307.72V329.30M240.22 304.42V325.62M240.47 304.11V330.31M240.72 309.64V327.88M240.97 305.85V328.79M241.22 306.22V325.25M241.47 309.79V323.37M241.72 310.03V323.56M241.97 310.64V324.54M242.22 311.02V324.34M242.47 308.01V324.49M242.72 308.95V325.25M242.97 311.11V325.48M243.22 310.57V329.77M243.47 307.43V329.05M243.72 305.19V329.41M243.97 308.22V329.46M244.22 306.72V328.03M244.47 309.55V325.01M244.72 309.10V322.95M244.97 309.93V324.87M245.22 306.92V323.62M245.47 302.92V329.84M245.72 311.08V324.87M245.97 305.58V329.41M246.22 308.98V325.98M246.47 303.94V331.69M246.72 308.51V325.30M246.97 304.33V330.30M247.22 307.86V330.23M247.47 306.61V326.16M247.72 307.51V327.33M247.97 307.05V325.29M248.22 308.08V324.42M248.47 310.46V324.17M248.72 310.24V322.83M248.97 311.22V326.62M249.22 310.83V324.31M249.47 304.90V326.29M249.72 303.10V325.24M249.97 304.19V331.50M250.22 305.86V329.63M250.47 304.81V329.37M250.72 304.42V330.12M250.97 306.75V330.67M251.22 308.90V328.74M251.47 305.99V328.46M251.72 307.82V328.49M251.97 304.05V331.02M252.22 303.48V335.75M252.47 302.78V334.30M252.72 301.79V334.92M252.97 300.34V338.42M253.22 298.96V333.57M253.47 301.36V333.46M253.72 302.43V339.88M253.97 300.38V340.01M254.22 299.49V329.36M254.47 303.64V327.13M254.72 310.63V325.23M254.97 311.75V326.68M255.22 309.23V324.74M255.47 306.00V328.24M255.72 304.99V329.10M255.97 308.85V323.56M256.23 309.32V327.82M256.48 310.71V323.74M256.73 311.89V325.73M256.98 312.54V325.77M257.23 307.99V326.22M257.48 308.47V326.29M257.73 307.36V322.99M257.98 311.46V325.12M258.23 308.83V324.07M258.48 311.47V324.31M258.73 310.63V323.39M258.98 309.71V324.19M259.23 310.95V327.68M259.48 302.88V332.56M259.73 302.80V326.48M259.98 302.71V331.76M260.23 312.23V329.98M260.48 305.82V325.06M260.73 307.54V323.33M260.98 307.41V327.92M261.23 310.82V324.79M261.48 311.39V323.93M261.73 308.50V326.15M261.98 311.64V325.50M262.23 311.75V328.17M262.48 311.18V326.93M262.73 308.71V324.98M262.98 309.95V324.48M263.23 305.70V325.79M263.48 303.29V330.56M263.73 311.85V333.03M263.98 301.66V325.72M264.23 302.74V328.52M264.48 302.51V328.11M264.73 302.63V325.97M264.98 304.42V332.34M265.23 304.93V336.70M265.48 298.34V330.29M265.73 304.08V332.84M265.98 305.61V331.39M266.23 304.11V328.11M266.48 303.21V332.69M266.73 304.20V330.70M266.98 305.23V329.59M267.23 304.49V327.95M267.48 302.12V328.78M267.73 306.84V326.01M267.98 310.05V327.94M268.23 305.05V329.32M268.48 305.18V324.84M268.73 306.86V327.24M268.98 311.11V324.47M269.23 312.22V325.93M269.48 309.00V324.95M269.73 308.50V326.82M269.98 311.19V326.17M270.23 309.67V323.48M270.48 312.35V324.90M270.73 310.14V326.28M270.98 308.04V328.65M271.23 308.89V326.93M271.48 304.46V326.77M271.73 302.06V328.97M271.98 307.90V330.02M272.23 301.73V329.79M272.48 304.60V332.49M272.73 307.49V330.38M272.98 306.80V331.74M273.23 302.73V339.37M273.48 296.97V343.32M273.73 297.70V334.42M273.98 307.54V339.21M274.23 306.67V338.66M274.48 299.07V331.10M274.73 303.91V333.31M274.98 305.84V327.96M275.23 309.67V326.64M275.48 306.08V326.94M275.73 306.08V331.76M275.98 304.83V327.71M276.23 308.08V330.05M276.48 305.11V329.06M276.73 310.18V326.05M276.98 311.44V327.95M277.23 310.08V324.26M277.48 309.63V323.88M277.73 311.54V325.41M277.98 311.50V324.62M278.23 312.05V325.57M278.48 309.73V323.68M278.73 308.04V324.09M278.98 311.04V327.71M279.23 307.52V326.67M279.48 306.65V330.34M279.73 309.84V326.45M279.98 305.25V326.99M280.23 307.43V331.66M280.48 307.97V328.06M280.73 302.93V325.13M280.98 310.41V325.05M281.23 309.48V326.94M281.48 305.47V326.28M281.73 305.32V329.72M281.98 309.83V332.41M282.23 300.92V330.60M282.48 308.26V329.50M282.73 308.58V328.84M282.98 307.46V324.49M283.23 306.10V327.96M283.48 306.22V326.60M283.73 309.26V324.64M283.98 307.27V324.34M284.23 306.84V325.47M284.48 310.55V324.36M284.73 306.57V327.61M284.98 311.59V326.15M285.23 308.67V323.41M285.48 310.60V328.10M285.73 310.23V327.47M285.98 310.38V327.29M286.23 304.95V325.01M286.48 310.62V327.21M286.73 306.69V328.63M286.98 311.64V325.66M287.23 311.42V324.50M287.48 311.28V325.98M287.73 307.07V326.14M287.98 311.88V326.09M288.23 309.12V323.63M288.48 311.19V323.60M288.73 308.35V322.94M288.98 309.49V326.22M289.23 309.78V323.09M289.48 306.09V327.06M289.73 309.27V329.76M289.98 306.93V329.11M290.23 311.29V332.00M290.48 305.78V326.06M290.73 307.08V324.78M290.98 309.49V325.05M291.23 312.02V327.37M291.48 305.83V325.72M291.73 311.20V326.17M291.98 310.03V327.30M292.23 311.89V325.68M292.48 309.10V328.01M292.73 308.88V323.93M292.98 308.77V326.93M293.23 309.85V328.74M293.48 307.77V332.90M293.73 300.95V333.47M293.98 303.40V339.72M294.23 301.53V333.82M294.48 299.43V335.29M294.73 301.63V336.78M294.98 298.41V336.81M295.23 304.18V338.11M295.48 302.20V335.50M295.73 301.41V331.14M295.98 303.14V337.58M296.23 298.88V331.68M296.48 305.43V334.74M296.73 308.13V326.52M296.98 307.95V326.70M297.23 303.43V326.45M297.48 307.93V328.46M297.73 302.86V330.77M297.98 302.93V327.25M298.23 309.01V324.30M298.48 310.16V328.11M298.73 306.50V328.50M298.98 309.43V324.47M299.23 309.94V326.75M299.48 311.17V324.16M299.73 307.64V323.41M299.98 306.62V325.72M300.23 308.29V324.40M300.48 310.60V325.89M300.73 310.83V322.90M300.98 308.59V325.42M301.23 309.32V326.37M301.48 306.20V326.17M301.73 305.42V328.53M301.98 304.66V326.98M302.23 304.63V327.03M302.48 309.68V324.67M302.73 308.31V332.04M302.98 310.52V324.20M303.23 305.39V324.83M303.48 306.79V327.19M303.73 308.77V325.85M303.98 310.52V327.23M304.23 309.92V327.09M304.48 306.39V326.28M304.73 306.76V331.73M304.98 308.52V326.04M305.23 309.73V328.04M305.48 304.88V331.24M305.73 304.32V327.42M305.98 310.54V331.57M306.23 308.75V325.78M306.48 308.97V328.00M306.73 307.30V328.20M306.98 306.74V328.15M307.23 308.66V328.91M307.48 307.01V324.46M307.73 309.44V326.88M307.98 309.71V328.40M308.23 306.26V324.62M308.48 304.73V328.79M308.73 304.45V328.07M308.98 310.13V326.92M309.23 311.25V325.73M309.48 309.73V326.48M309.73 305.48V328.36M309.98 307.11V329.87M310.23 307.83V327.71M310.48 310.59V327.95M310.73 307.90V326.01M310.98 310.41V325.59M311.23 306.84V325.34M311.48 305.57V324.70M311.73 304.91V326.54M311.98 305.73V324.82M312.23 308.95V328.17M312.48 310.20V327.51M312.73 307.15V326.41M312.98 310.23V324.49M313.23 311.22V325.01M313.48 310.94V325.35M313.73 304.91V331.31M313.98 303.61V324.19M314.23 305.50V328.33M314.48 306.93V330.86M314.73 305.45V327.40M314.98 304.21V332.40M315.23 306.10V330.96M315.48 303.91V332.00M315.73 301.88V331.85M315.98 301.62V335.22M316.23 302.74V338.09M316.48 304.35V336.00M316.73 300.80V334.71M316.98 299.25V339.47M317.23 299.16V335.43M317.48 306.44V337.70M317.73 308.32V333.53M317.98 306.93V330.66M318.23 307.46V329.43M318.48 311.71V327.71M318.73 309.58V324.96M318.98 311.38V325.49M319.23 308.64V323.94M319.48 311.19V323.68M319.73 312.21V323.77M319.98 308.85V323.55M320.23 311.29V323.89M320.48 310.75V323.87M320.73 312.03V325.55M320.98 311.31V323.81M321.23 311.38V323.51M321.48 310.09V326.20M321.73 307.61V325.33M321.98 309.64V327.76M322.23 308.46V324.76M322.48 302.76V329.84M322.73 301.70V329.15M322.98 307.14V334.05M323.23 294.99V338.53M323.48 302.54V333.51M323.73 300.71V335.77M323.98 298.94V334.71M324.23 298.85V329.46M324.48 302.65V327.56M324.73 303.02V335.28M324.98 303.05V329.49M325.23 306.29V330.46M325.48 309.49V326.55M325.73 310.65V326.44M325.98 309.69V324.64M326.23 309.60V326.92M326.48 307.24V327.73M326.73 308.01V328.96M326.98 309.42V323.45M327.23 309.74V324.27M327.48 307.93V325.76M327.73 306.02V328.85M327.98 307.49V325.88M328.23 302.94V329.45M328.48 309.96V330.56M328.73 303.85V330.85M328.98 306.78V326.78M329.23 309.36V326.26M329.48 308.20V324.64M329.73 307.05V326.63M329.98 305.59V326.22M330.23 308.41V327.26M330.48 311.05V323.58M330.73 307.67V330.39M330.98 305.73V324.51M331.23 310.68V324.79M331.48 306.81V326.68M331.73 301.19V329.21M331.98 305.75V334.39M332.23 306.48V334.24M332.48 305.58V333.71M332.73 305.68V330.10M332.98 304.71V328.70M333.23 302.58V334.46M333.48 298.04V337.99M333.73 300.99V329.79M333.98 302.04V335.38M334.23 308.63V325.18M334.48 310.82V328.03M334.73 306.67V326.42M334.98 310.05V328.12M335.23 308.56V326.53M335.48 310.64V323.44M335.73 309.31V325.45M335.98 309.90V323.84M336.23 312.25V324.39M336.48 312.19V323.20M336.73 310.36V324.62M336.98 311.23V325.51M337.23 310.11V323.39M337.48 311.06V325.37M337.73 309.64V328.48M337.98 307.77V324.59M338.23 308.75V329.82M338.48 309.11V326.67M338.73 308.75V325.05M338.98 307.45V328.79M339.23 310.69V326.18M339.48 305.83V326.26M339.73 308.00V326.66M339.98 303.13V331.28" fill="none" stroke="#0000ff" stroke-width="0.40"/>
<text x="274.10" y="270.1" text-anchor="middle" font-size="4.6" font-weight="bold" fill="#222">C<tspan font-size="3.8" dy="1.6" font-style="italic">dpe</tspan><tspan dy="-1.6" font-style="italic">=48</tspan></text>
<text x="274.10" y="389" text-anchor="middle" font-size="4.6" fill="#1e1e1e">Time (s)</text>
<text transform="translate(197.50 325.2) rotate(-90)" text-anchor="middle" font-size="4.6" fill="#1e1e1e"><tspan font-weight="bold">V</tspan><tspan font-size="3.4" dy="1.5">trc</tspan><tspan dy="-1.5"> (mv)</tspan></text>
<path d="M378.20 376.80v-1.10M378.20 272.70v1.10M404.60 376.80v-1.10M404.60 272.70v1.10M431.00 376.80v-1.10M431.00 272.70v1.10M457.40 376.80v-1.10M457.40 272.70v1.10M483.80 376.80v-1.10M483.80 272.70v1.10M510.20 376.80v-1.10M510.20 272.70v1.10M378.20 376.80h1.10M510.20 376.80h-1.10M378.20 365.23h1.10M510.20 365.23h-1.10M378.20 353.67h1.10M510.20 353.67h-1.10M378.20 342.10h1.10M510.20 342.10h-1.10M378.20 330.53h1.10M510.20 330.53h-1.10M378.20 318.97h1.10M510.20 318.97h-1.10M378.20 307.40h1.10M510.20 307.40h-1.10M378.20 295.83h1.10M510.20 295.83h-1.10M378.20 284.27h1.10M510.20 284.27h-1.10M378.20 272.70h1.10M510.20 272.70h-1.10" stroke="#a9a9a9" stroke-width="0.6" fill="none"/>
<rect x="378.20" y="272.70" width="132.00" height="104.10" fill="none" stroke="#a9a9a9" stroke-width="0.90"/>
<g font-size="3.90" fill="#1e1e1e"><text x="378.20" y="382.80" text-anchor="middle">20</text><text x="404.60" y="382.80" text-anchor="middle">40</text><text x="431.00" y="382.80" text-anchor="middle">60</text><text x="457.40" y="382.80" text-anchor="middle">80</text><text x="483.80" y="382.80" text-anchor="middle">100</text><text x="510.20" y="382.80" text-anchor="middle">120</text><text x="376.40" y="378.59" text-anchor="end">-8</text><text x="376.40" y="367.03" text-anchor="end">-6</text><text x="376.40" y="355.46" text-anchor="end">-4</text><text x="376.40" y="343.89" text-anchor="end">-2</text><text x="376.40" y="332.33" text-anchor="end">0</text><text x="376.40" y="320.76" text-anchor="end">2</text><text x="376.40" y="309.19" text-anchor="end">4</text><text x="376.40" y="297.63" text-anchor="end">6</text><text x="376.40" y="286.06" text-anchor="end">8</text><text x="376.40" y="274.49" text-anchor="end">10</text></g>
<path d="M378.32 314.34V323.24M378.82 314.55V323.21M379.32 314.67V323.46M379.82 314.51V323.16M380.32 314.64V323.43M380.82 314.76V323.13M381.32 314.74V323.27M381.82 314.33V323.43M382.32 314.74V323.05M382.82 314.47V323.24M383.32 314.62V323.45M383.82 314.35V323.39M384.32 314.08V323.25M384.82 313.67V323.55M385.32 312.90V323.81M385.82 312.37V324.47M386.32 312.08V324.29M386.82 312.36V324.26M387.32 313.24V323.53M387.82 313.85V323.64M388.32 314.10V323.29M388.82 314.43V323.33M389.32 314.31V323.78M389.82 314.38V324.07M390.32 313.79V324.38M390.82 313.41V325.36M391.32 312.78V326.22M391.82 313.31V326.11M392.32 313.50V324.85M392.82 314.38V324.23M393.32 314.34V323.79M393.82 314.49V323.25M394.32 314.71V323.13M394.82 314.37V323.48M395.32 314.71V323.42M395.82 314.46V323.16M396.32 314.38V323.21M396.82 314.76V323.09M397.32 314.48V323.32M397.82 314.51V323.41M398.32 314.63V323.37M398.82 314.39V323.18M399.32 314.74V323.21M399.82 314.63V323.18M400.32 314.45V323.42M400.82 314.38V323.12M401.32 314.46V323.27M401.82 314.46V323.22M402.32 314.30V323.44M402.82 314.38V323.35M403.32 314.43V323.80M403.82 314.08V324.46M404.32 313.44V325.34M404.82 312.60V327.13M405.32 311.18V328.24M405.82 311.27V327.86M406.32 312.11V327.31M406.82 313.02V325.98M407.32 313.85V324.39M407.82 314.11V323.85M408.32 314.58V323.43M408.82 314.53V323.44M409.32 314.50V323.39M409.82 314.75V323.21M410.32 314.64V323.40M410.82 314.45V323.39M411.32 314.69V323.44M411.82 314.65V323.71M412.32 314.42V323.96M412.82 314.14V324.45M413.32 314.06V324.49M413.82 313.86V325.09M414.32 313.72V324.59M414.82 314.40V324.32M415.32 314.42V323.62M415.82 314.36V323.62M416.32 314.55V323.47M416.82 314.34V323.19M417.32 314.75V323.15M417.82 314.40V323.21M418.32 314.46V323.14M418.82 314.40V323.15M419.32 314.62V323.33M419.82 314.58V323.17M420.32 314.35V323.16M420.82 314.64V323.11M421.32 314.56V323.10M421.82 314.34V323.47M422.32 314.49V323.45M422.82 314.34V323.11M423.32 314.48V323.38M423.82 314.52V323.33M424.32 314.45V323.44M424.82 314.33V323.18M425.32 314.51V323.28M425.82 314.50V323.29M426.32 314.56V323.31M426.82 314.56V323.44M427.32 314.51V323.66M427.82 314.56V323.87M428.32 314.26V324.18M428.82 314.27V324.74M429.32 314.02V325.20M429.82 314.40V324.57M430.32 314.45V324.09M430.82 314.46V323.80M431.32 314.47V323.52M431.82 314.47V323.45M432.32 314.41V323.08M432.82 314.42V323.30M433.32 314.65V323.31M433.82 314.71V323.18M434.32 314.64V323.30M434.82 314.48V323.14M435.32 314.51V323.30M435.82 314.32V323.31M436.32 314.63V323.23M436.82 314.41V323.30M437.32 314.34V323.43M437.82 314.61V323.47M438.32 314.42V323.35M438.82 314.51V323.28M439.32 314.47V323.29M439.82 314.51V323.28M440.32 314.70V323.09M440.82 314.59V323.12M441.32 314.19V323.30M441.82 314.27V323.62M442.32 314.09V323.78M442.82 312.88V324.68M443.32 311.75V326.13M443.82 310.80V326.87M444.32 310.62V327.54M444.82 310.85V327.71M445.32 311.61V326.42M445.82 312.40V325.17M446.32 313.60V324.47M446.82 314.19V323.81M447.32 314.24V323.62M447.82 314.42V323.22M448.32 314.72V323.50M448.82 314.42V323.23M449.32 314.69V323.20M449.82 314.65V323.43M450.32 314.60V323.39M450.82 314.65V323.08M451.32 314.73V323.38M451.82 314.53V323.24M452.32 314.70V323.21M452.82 314.52V323.22M453.32 314.63V323.16M453.82 314.44V323.32M454.32 314.35V323.37M454.82 314.62V323.43M455.32 314.57V323.18M455.82 314.41V323.36M456.32 314.37V323.12M456.82 314.57V323.45M457.32 314.66V323.18M457.82 314.65V323.23M458.32 314.26V323.12M458.82 314.44V323.19M459.32 314.14V323.29M459.82 313.72V323.57M460.32 313.46V323.67M460.82 313.19V324.16M461.32 313.36V323.70M461.82 313.47V323.86M462.32 314.02V323.44M462.82 314.47V323.18M463.32 314.66V323.13M463.82 314.46V323.33M464.32 314.38V323.30M464.82 314.53V323.44M465.32 314.71V323.35M465.82 314.54V323.25M466.32 314.73V323.21M466.82 314.36V323.25M467.32 314.45V323.24M467.82 314.60V323.29M468.32 314.35V323.06M468.82 314.56V323.27M469.32 314.75V323.43M469.82 314.74V323.25M470.32 314.33V323.46M470.82 314.37V323.13M471.32 314.63V323.06M471.82 314.46V323.45M472.32 314.41V323.40M472.82 314.50V323.30M473.32 314.54V323.53M473.82 314.17V323.43M474.32 313.89V323.75M474.82 313.36V324.34M475.32 312.75V325.41M475.82 312.03V326.31M476.32 311.70V326.83M476.82 312.12V326.13M477.32 313.40V325.15M477.82 314.17V324.04M478.32 314.43V323.61M478.82 314.30V323.26M479.32 314.59V323.22M479.82 314.73V323.11M480.32 314.70V323.37M480.82 314.75V323.27M481.32 314.68V323.46M481.82 314.43V323.25M482.32 314.74V323.45M482.82 314.44V323.42M483.32 314.48V323.45M483.82 314.56V323.19M484.32 314.72V323.46M484.82 314.42V323.36M485.32 314.66V323.42M485.82 314.33V323.08M486.32 314.43V323.10M486.82 314.56V323.07M487.32 314.46V323.44M487.82 314.46V323.06M488.32 314.59V323.11M488.82 314.55V323.06M489.32 314.52V323.19M489.82 314.67V323.33M490.32 314.56V323.36M490.82 314.74V323.25M491.32 314.68V323.48M491.82 314.56V323.45M492.32 314.34V323.11M492.82 314.42V323.54M493.32 314.48V323.87M493.82 313.91V324.28M494.32 313.44V325.07M494.82 312.78V326.11M495.32 312.59V327.04M495.82 312.41V326.68M496.32 313.04V325.97M496.82 313.38V325.04M497.32 314.23V324.24M497.82 314.54V323.60M498.32 314.68V323.58M498.82 314.59V323.40M499.32 314.75V323.35M499.82 314.33V323.34M500.32 314.74V323.06M500.82 314.56V323.43M501.32 314.62V323.33M501.82 314.46V323.24M502.32 314.64V323.35M502.82 314.48V323.09M503.32 314.40V323.41M503.82 314.43V323.40M504.32 314.66V323.13M504.82 314.67V323.22M505.32 314.48V323.15M505.82 314.56V323.42M506.32 313.97V323.32M506.82 313.97V323.59M507.32 313.68V323.92M507.82 313.61V324.12M508.32 313.60V323.99M508.82 313.91V323.65M509.32 314.01V323.39M509.82 314.20V323.50" fill="none" stroke="#0000ff" stroke-width="0.75"/>
<path d="M378.32 307.71V327.26M378.57 308.95V325.09M378.82 312.45V327.10M379.07 312.48V327.50M379.32 309.93V327.24M379.57 310.64V329.35M379.82 310.03V327.53M380.07 306.24V324.86M380.32 309.61V327.28M380.57 310.97V325.01M380.82 311.30V325.18M381.07 313.64V324.96M381.32 311.64V325.06M381.57 309.48V327.70M381.82 310.23V327.20M382.07 309.30V328.05M382.32 311.77V329.15M382.57 310.61V325.81M382.82 311.27V330.53M383.07 310.86V330.95M383.32 311.38V330.54M383.57 310.03V333.42M383.82 310.28V330.25M384.07 307.41V325.32M384.32 307.83V326.61M384.57 307.33V326.80M384.82 309.27V326.98M385.07 308.68V327.66M385.32 306.51V329.13M385.57 307.88V325.07M385.82 308.88V326.38M386.07 307.98V327.47M386.32 306.03V328.82M386.57 301.34V329.15M386.82 300.10V328.72M387.07 309.09V329.66M387.32 302.88V333.09M387.57 310.20V331.62M387.82 307.28V326.86M388.07 308.18V329.21M388.32 309.24V324.55M388.57 312.43V325.81M388.82 310.11V327.65M389.07 311.38V330.37M389.32 308.12V329.33M389.57 308.69V329.36M389.82 310.01V329.47M390.07 311.87V326.74M390.32 309.70V326.90M390.57 311.50V328.73M390.82 307.74V330.05M391.07 304.72V329.38M391.32 310.84V328.94M391.57 305.30V336.87M391.82 304.54V338.41M392.07 309.29V336.22M392.32 311.92V330.65M392.57 313.03V330.91M392.82 306.22V333.58M393.07 312.85V333.93M393.32 309.63V328.29M393.57 308.89V329.85M393.82 313.59V326.86M394.07 310.35V324.91M394.32 310.93V326.91M394.57 310.58V324.12M394.82 309.37V327.82M395.07 310.15V328.62M395.32 307.35V329.89M395.57 309.26V326.56M395.82 311.71V327.19M396.07 313.40V326.45M396.32 312.20V325.61M396.57 309.41V326.62M396.82 308.75V326.80M397.07 312.66V328.66M397.32 309.42V328.99M397.57 308.24V332.37M397.82 308.72V326.31M398.07 311.49V331.88M398.32 311.04V330.53M398.57 308.94V324.44M398.82 308.20V329.41M399.07 308.10V327.40M399.32 307.95V328.65M399.57 307.74V328.88M399.82 313.27V330.78M400.07 310.61V329.09M400.32 310.14V329.45M400.57 311.42V326.06M400.82 311.87V324.40M401.07 312.46V326.29M401.32 312.26V328.20M401.57 313.87V324.15M401.82 308.88V328.99M402.07 305.61V328.30M402.32 306.59V331.33M402.57 309.35V328.34M402.82 307.71V331.95M403.07 304.29V330.09M403.32 308.01V331.36M403.57 308.03V327.58M403.82 307.94V328.26M404.07 305.84V330.92M404.32 307.45V327.80M404.57 310.82V333.92M404.82 308.71V331.54M405.07 306.95V333.52M405.32 309.94V330.07M405.57 310.03V333.43M405.82 309.86V330.99M406.07 309.91V329.92M406.32 310.35V330.58M406.57 306.40V331.57M406.82 305.84V333.52M407.07 304.02V333.10M407.32 305.44V329.75M407.57 307.70V333.78M407.82 304.53V329.32M408.07 310.19V329.07M408.32 308.56V332.57M408.57 308.76V330.92M408.82 308.11V329.88M409.07 308.89V329.61M409.32 311.07V327.89M409.57 311.74V324.59M409.82 312.52V328.13M410.07 309.73V327.55M410.32 306.91V328.97M410.57 309.00V327.49M410.82 306.43V328.66M411.07 307.75V330.30M411.32 307.38V325.46M411.57 306.58V332.10M411.82 310.67V329.43M412.07 309.75V332.58M412.32 310.06V333.40M412.57 306.63V333.00M412.82 307.20V326.86M413.07 308.47V329.97M413.32 311.98V327.89M413.57 311.85V329.20M413.82 312.14V330.23M414.07 308.68V330.08M414.32 309.23V332.56M414.57 310.20V327.77M414.82 311.00V331.94M415.07 307.97V330.99M415.32 311.84V328.29M415.57 308.70V328.68M415.82 311.51V326.94M416.07 312.38V328.93M416.32 311.17V326.06M416.57 309.71V325.05M416.82 312.50V327.22M417.07 308.94V328.66M417.32 311.31V326.78M417.57 309.78V327.58M417.82 308.28V324.46M418.07 310.52V330.02M418.32 308.13V329.39M418.57 312.65V326.61M418.82 312.16V327.44M419.07 311.99V324.70M419.32 312.56V325.71M419.57 310.96V325.17M419.82 309.30V327.94M420.07 312.62V329.52M420.32 309.83V330.31M420.57 308.81V325.49M420.82 311.00V330.59M421.07 308.93V328.25M421.32 312.73V324.89M421.57 310.51V328.69M421.82 309.19V328.21M422.07 308.41V324.75M422.32 309.35V325.85M422.57 309.68V326.95M422.82 310.95V328.36M423.07 312.56V324.91M423.32 312.66V326.55M423.57 308.25V325.16M423.82 307.25V331.24M424.07 306.83V324.47M424.32 308.12V330.21M424.57 312.01V325.72M424.82 307.44V329.37M425.07 306.43V331.22M425.32 306.57V330.08M425.57 306.46V328.57M425.82 310.61V325.12M426.07 309.55V325.83M426.32 307.24V325.36M426.57 310.51V326.52M426.82 309.66V327.76M427.07 312.42V326.67M427.32 311.60V326.93M427.57 309.99V326.92M427.82 309.31V329.38M428.07 309.75V328.89M428.32 310.56V326.40M428.57 309.26V328.91M428.82 309.19V331.33M429.07 310.98V327.06M429.32 311.32V331.44M429.57 312.62V333.34M429.82 304.71V335.00M430.07 304.86V333.36M430.32 305.86V333.64M430.57 309.42V328.00M430.82 311.09V328.44M431.07 308.79V328.52M431.32 309.07V327.64M431.57 308.77V328.96M431.82 312.69V327.12M432.07 310.91V328.59M432.32 309.18V328.54M432.57 309.24V328.16M432.82 311.87V326.37M433.07 313.07V326.04M433.32 311.52V324.84M433.57 313.60V325.92M433.82 310.87V327.09M434.07 313.17V326.15M434.32 310.61V324.79M434.57 312.18V324.15M434.82 310.16V327.42M435.07 313.18V324.82M435.32 312.68V327.62M435.57 308.76V330.33M435.82 306.94V331.64M436.07 309.17V330.00M436.32 308.18V332.43M436.57 306.69V329.01M436.82 309.58V332.62M437.07 309.23V330.39M437.32 308.92V325.34M437.57 311.35V329.05M437.82 312.44V325.40M438.07 308.01V330.05M438.32 312.10V324.94M438.57 305.88V330.32M438.82 306.52V326.32M439.07 309.71V328.51M439.32 308.86V326.39M439.57 313.44V327.85M439.82 311.68V324.94M440.07 312.05V327.26M440.32 311.27V329.84M440.57 306.26V325.41M440.82 312.28V331.61M441.07 304.81V326.26M441.32 311.70V331.71M441.57 307.41V331.38M441.82 310.74V326.02M442.07 309.84V329.83M442.32 307.53V327.66M442.57 307.40V327.60M442.82 310.83V332.90M443.07 308.90V329.60M443.32 307.62V328.76M443.57 307.06V329.17M443.82 309.61V333.72M444.07 304.25V334.68M444.32 304.88V331.34M444.57 301.56V333.62M444.82 305.72V336.08M445.07 305.29V338.92M445.32 300.02V328.73M445.57 304.02V336.44M445.82 307.46V336.60M446.07 311.34V330.77M446.32 309.53V330.18M446.57 306.69V332.99M446.82 308.11V327.79M447.07 311.58V326.32M447.32 309.55V327.92M447.57 310.30V327.23M447.82 309.58V328.84M448.07 310.07V326.92M448.32 309.57V329.85M448.57 309.28V328.45M448.82 305.15V332.10M449.07 308.03V329.99M449.32 309.87V332.99M449.57 308.08V330.39M449.82 305.68V331.45M450.07 309.48V327.13M450.32 313.61V326.14M450.57 310.45V326.34M450.82 308.94V329.48M451.07 313.10V330.32M451.32 306.09V326.52M451.57 307.94V327.74M451.82 313.11V328.42M452.07 311.82V324.60M452.32 312.12V326.39M452.57 312.80V327.57M452.82 312.88V325.44M453.07 313.74V323.96M453.32 311.50V325.62M453.57 311.79V326.36M453.82 309.10V329.71M454.07 307.40V329.33M454.32 309.52V329.23M454.57 312.38V325.45M454.82 312.90V328.30M455.07 310.21V328.28M455.32 311.10V324.30M455.57 309.76V327.36M455.82 311.98V330.41M456.07 312.65V329.65M456.32 307.79V330.29M456.57 310.96V325.25M456.82 313.57V326.00M457.07 310.81V326.17M457.32 313.51V325.31M457.57 311.45V326.83M457.82 311.94V325.32M458.07 310.81V326.58M458.32 313.27V327.32M458.57 310.08V326.75M458.82 309.75V324.41M459.07 308.21V324.60M459.32 307.87V329.52M459.57 309.50V329.77M459.82 303.31V326.95M460.07 304.04V327.59M460.32 302.49V331.53M460.57 302.70V328.55M460.82 308.23V333.83M461.07 305.55V326.87M461.32 309.63V328.38M461.57 311.29V328.08M461.82 311.07V326.80M462.07 312.47V327.05M462.32 310.90V327.60M462.57 307.98V325.91M462.82 311.15V326.88M463.07 311.08V324.70M463.32 309.08V324.55M463.57 313.10V328.71M463.82 313.22V327.56M464.07 311.30V326.43M464.32 313.52V324.16M464.57 310.78V326.96M464.82 308.38V328.72M465.07 309.02V327.82M465.32 312.67V327.05M465.57 312.59V327.50M465.82 312.04V323.88M466.07 309.62V326.02M466.32 310.99V325.08M466.57 311.15V325.57M466.82 311.79V325.77M467.07 312.82V325.27M467.32 311.69V327.06M467.57 313.82V327.60M467.82 311.91V327.26M468.07 310.55V327.07M468.32 313.12V325.75M468.57 310.63V325.39M468.82 308.92V329.21M469.07 311.76V325.63M469.32 306.38V329.55M469.57 310.51V329.90M469.82 306.49V325.65M470.07 310.91V325.93M470.32 310.71V327.25M470.57 310.45V326.88M470.82 310.37V325.57M471.07 311.29V326.62M471.32 312.51V327.66M471.57 309.71V327.78M471.82 308.90V328.00M472.07 312.29V329.90M472.32 308.91V331.06M472.57 304.85V331.90M472.82 307.94V329.94M473.07 311.13V329.95M473.32 308.14V326.57M473.57 309.62V326.18M473.82 307.43V329.79M474.07 310.55V325.97M474.32 313.23V326.36M474.57 311.94V329.90M474.82 311.03V326.89M475.07 305.96V330.78M475.32 309.05V328.61M475.57 308.97V331.05M475.82 305.25V332.49M476.07 309.54V332.32M476.32 307.44V331.99M476.57 304.98V331.06M476.82 304.14V331.96M477.07 309.52V328.88M477.32 308.32V327.34M477.57 311.53V329.00M477.82 309.07V325.36M478.07 310.30V332.25M478.32 310.47V327.47M478.57 309.53V331.68M478.82 311.00V329.57M479.07 306.86V330.11M479.32 310.44V330.37M479.57 309.92V327.08M479.82 310.65V330.47M480.07 309.30V330.87M480.32 309.18V330.63M480.57 308.76V330.59M480.82 306.00V329.13M481.07 310.46V333.31M481.32 306.16V329.15M481.57 309.73V327.13M481.82 312.53V328.11M482.07 312.78V328.96M482.32 309.31V328.46M482.57 313.35V327.22M482.82 311.44V326.93M483.07 307.77V329.21M483.32 312.66V328.10M483.57 312.21V328.57M483.82 312.61V327.45M484.07 310.33V326.80M484.32 312.54V329.86M484.57 305.97V329.79M484.82 311.08V333.35M485.07 307.06V331.15M485.32 305.54V327.67M485.57 307.11V330.97M485.82 307.51V331.96M486.07 308.15V329.35M486.32 309.94V326.93M486.57 304.61V328.50M486.82 308.71V331.57M487.07 307.42V327.02M487.32 308.90V324.40M487.57 308.75V328.50M487.82 312.87V327.76M488.07 312.36V329.15M488.32 306.04V330.91M488.57 307.49V331.69M488.82 306.50V330.42M489.07 306.61V331.15M489.32 307.58V329.81M489.57 310.31V325.31M489.82 309.24V325.74M490.07 313.47V330.10M490.32 306.93V329.26M490.57 313.23V329.60M490.82 309.75V325.99M491.07 313.72V327.98M491.32 305.69V326.58M491.57 306.50V324.87M491.82 312.73V326.58M492.07 307.90V328.82M492.32 310.30V329.28M492.57 313.09V324.70M492.82 309.13V325.26M493.07 309.53V328.92M493.32 309.18V327.81M493.57 305.56V325.90M493.82 311.06V331.92M494.07 312.07V326.31M494.32 307.90V328.71M494.57 310.69V332.45M494.82 306.19V333.53M495.07 309.62V335.15M495.32 306.38V332.48M495.57 308.73V329.45M495.82 307.86V328.75M496.07 308.33V331.66M496.32 309.59V330.65M496.57 309.27V328.33M496.82 308.68V327.33M497.07 312.02V327.82M497.32 308.44V326.76M497.57 309.59V326.43M497.82 313.00V325.55M498.07 312.58V327.67M498.32 311.01V327.18M498.57 307.61V330.55M498.82 308.08V329.50M499.07 309.39V328.09M499.32 306.30V332.28M499.57 311.33V329.34M499.82 308.59V329.77M500.07 308.06V326.44M500.32 311.75V332.19M500.57 307.03V331.03M500.82 306.85V329.05M501.07 304.17V327.98M501.32 309.24V326.36M501.57 307.88V325.31M501.82 304.41V327.45M502.07 310.95V328.50M502.32 307.58V328.03M502.57 312.19V325.68M502.82 311.95V324.32M503.07 307.54V325.44M503.32 310.45V324.45M503.57 311.03V324.88M503.82 311.11V327.26M504.07 307.42V329.81M504.32 307.92V326.28M504.57 310.85V330.92M504.82 309.36V331.11M505.07 311.33V328.16M505.32 309.30V324.46M505.57 312.24V324.75M505.82 311.33V325.90M506.07 309.14V328.46M506.32 311.82V329.36M506.57 308.21V328.12M506.82 311.06V328.12M507.07 310.52V324.74M507.32 311.75V326.65M507.57 309.60V326.67M507.82 309.40V325.57M508.07 309.34V327.73M508.32 305.90V329.28M508.57 306.69V334.08M508.82 312.08V326.59M509.07 303.05V329.13M509.32 306.12V327.65M509.57 306.03V328.05M509.82 306.38V328.82M510.07 312.12V329.16" fill="none" stroke="#0000ff" stroke-width="0.40"/>
<text x="444.20" y="270.1" text-anchor="middle" font-size="4.6" font-weight="bold" fill="#222">C<tspan font-size="3.8" dy="1.6" font-style="italic">dpe</tspan><tspan dy="-1.6" font-style="italic">=41</tspan></text>
<text x="444.20" y="389" text-anchor="middle" font-size="4.6" fill="#1e1e1e">Time (s)</text>
<text transform="translate(367.60 325.2) rotate(-90)" text-anchor="middle" font-size="4.6" fill="#1e1e1e"><tspan font-weight="bold">V</tspan><tspan font-size="3.4" dy="1.5">trc</tspan><tspan dy="-1.5"> (mv)</tspan></text>
<path d="M548.60 376.80v-1.10M548.60 272.70v1.10M575.00 376.80v-1.10M575.00 272.70v1.10M601.40 376.80v-1.10M601.40 272.70v1.10M627.80 376.80v-1.10M627.80 272.70v1.10M654.20 376.80v-1.10M654.20 272.70v1.10M680.60 376.80v-1.10M680.60 272.70v1.10M548.60 376.80h1.10M680.60 376.80h-1.10M548.60 365.23h1.10M680.60 365.23h-1.10M548.60 353.67h1.10M680.60 353.67h-1.10M548.60 342.10h1.10M680.60 342.10h-1.10M548.60 330.53h1.10M680.60 330.53h-1.10M548.60 318.97h1.10M680.60 318.97h-1.10M548.60 307.40h1.10M680.60 307.40h-1.10M548.60 295.83h1.10M680.60 295.83h-1.10M548.60 284.27h1.10M680.60 284.27h-1.10M548.60 272.70h1.10M680.60 272.70h-1.10" stroke="#a9a9a9" stroke-width="0.6" fill="none"/>
<rect x="548.60" y="272.70" width="132.00" height="104.10" fill="none" stroke="#a9a9a9" stroke-width="0.90"/>
<g font-size="3.90" fill="#1e1e1e"><text x="548.60" y="382.80" text-anchor="middle">20</text><text x="575.00" y="382.80" text-anchor="middle">40</text><text x="601.40" y="382.80" text-anchor="middle">60</text><text x="627.80" y="382.80" text-anchor="middle">80</text><text x="654.20" y="382.80" text-anchor="middle">100</text><text x="680.60" y="382.80" text-anchor="middle">120</text><text x="546.80" y="378.59" text-anchor="end">-8</text><text x="546.80" y="367.03" text-anchor="end">-6</text><text x="546.80" y="355.46" text-anchor="end">-4</text><text x="546.80" y="343.89" text-anchor="end">-2</text><text x="546.80" y="332.33" text-anchor="end">0</text><text x="546.80" y="320.76" text-anchor="end">2</text><text x="546.80" y="309.19" text-anchor="end">4</text><text x="546.80" y="297.63" text-anchor="end">6</text><text x="546.80" y="286.06" text-anchor="end">8</text><text x="546.80" y="274.49" text-anchor="end">10</text></g>
<path d="M548.73 317.43V324.28M549.23 317.31V324.15M549.73 317.34V324.41M550.23 317.21V324.21M550.73 317.14V324.30M551.23 317.29V324.24M551.73 317.25V324.24M552.23 317.24V324.27M552.73 317.25V324.38M553.23 317.33V324.17M553.73 317.30V324.42M554.23 317.43V324.37M554.73 317.46V324.37M555.23 317.44V324.34M555.73 317.43V324.14M556.23 317.38V324.16M556.73 317.14V324.40M557.23 317.15V324.15M557.73 317.42V324.33M558.23 317.16V324.55M558.73 317.30V324.52M559.23 317.26V324.83M559.73 316.88V325.18M560.23 316.80V325.45M560.73 316.60V325.67M561.23 316.65V326.22M561.73 316.50V325.84M562.23 316.81V325.66M562.73 316.95V325.31M563.23 317.06V325.14M563.73 317.30V324.59M564.23 317.03V324.47M564.73 317.15V324.46M565.23 317.28V324.46M565.73 317.38V324.41M566.23 317.20V324.40M566.73 317.29V324.34M567.23 317.21V324.26M567.73 317.37V324.21M568.23 317.20V324.30M568.73 317.10V324.40M569.23 317.13V324.33M569.73 317.38V324.39M570.23 317.33V324.35M570.73 317.29V324.31M571.23 317.27V324.39M571.73 317.19V324.33M572.23 317.27V324.41M572.73 317.15V324.44M573.23 317.06V324.49M573.73 316.93V324.70M574.23 316.89V324.83M574.73 316.70V325.12M575.23 316.68V325.46M575.73 316.58V325.69M576.23 316.89V325.51M576.73 316.76V325.39M577.23 317.06V324.76M577.73 317.21V324.76M578.23 317.01V324.66M578.73 317.15V324.21M579.23 317.18V324.30M579.73 317.38V324.35M580.23 317.10V324.33M580.73 317.39V324.18M581.23 317.40V324.18M581.73 317.20V324.23M582.23 317.30V324.40M582.73 317.41V324.15M583.23 317.11V324.27M583.73 317.14V324.15M584.23 317.28V324.13M584.73 317.38V324.45M585.23 317.27V324.40M585.73 317.40V324.20M586.23 317.25V324.26M586.73 317.46V324.37M587.23 317.17V324.33M587.73 317.28V324.43M588.23 317.29V324.33M588.73 317.35V324.42M589.23 317.43V324.21M589.73 317.30V324.34M590.23 317.41V324.23M590.73 317.14V324.26M591.23 317.26V324.42M591.73 317.32V324.26M592.23 317.23V324.17M592.73 317.30V324.43M593.23 317.15V324.15M593.73 317.27V324.20M594.23 317.41V324.24M594.73 317.38V324.34M595.23 317.43V324.37M595.73 317.13V324.16M596.23 317.27V324.38M596.73 317.33V324.18M597.23 317.26V324.22M597.73 317.21V324.38M598.23 317.22V324.34M598.73 317.17V324.43M599.23 317.35V324.21M599.73 317.39V324.41M600.23 317.28V324.39M600.73 317.23V324.24M601.23 317.10V324.24M601.73 317.07V324.32M602.23 317.13V324.34M602.73 316.93V324.54M603.23 316.95V325.06M603.73 316.29V325.52M604.23 316.03V325.94M604.73 315.26V326.43M605.23 314.36V327.80M605.73 313.91V328.32M606.23 312.85V329.15M606.73 312.93V328.65M607.23 313.74V328.24M607.73 314.67V327.42M608.23 315.64V326.52M608.73 316.04V325.88M609.23 316.46V325.03M609.73 316.62V324.93M610.23 317.18V324.45M610.73 317.13V324.38M611.23 317.16V324.25M611.73 317.29V324.43M612.23 317.10V324.21M612.73 317.25V324.41M613.23 317.42V324.14M613.73 317.26V324.32M614.23 317.20V324.37M614.73 317.18V324.32M615.23 317.35V324.17M615.73 317.25V324.33M616.23 317.44V324.25M616.73 317.45V324.44M617.23 317.25V324.14M617.73 317.36V324.38M618.23 317.26V324.37M618.73 317.46V324.32M619.23 317.34V324.30M619.73 317.12V324.32M620.23 317.40V324.35M620.73 317.28V324.13M621.23 317.38V324.16M621.73 317.25V324.38M622.23 317.31V324.36M622.73 317.21V324.44M623.23 317.12V324.13M623.73 317.39V324.43M624.23 317.12V324.41M624.73 317.36V324.15M625.23 317.44V324.38M625.73 317.25V324.36M626.23 317.45V324.16M626.73 317.30V324.19M627.23 317.35V324.17M627.73 317.29V324.26M628.23 317.24V324.18M628.73 317.23V324.13M629.23 317.31V324.16M629.73 317.33V324.16M630.23 317.30V324.39M630.73 317.41V324.39M631.23 317.30V324.26M631.73 317.24V324.34M632.23 317.37V324.27M632.73 317.20V324.54M633.23 317.24V324.57M633.73 317.03V324.95M634.23 316.84V325.26M634.73 316.31V325.48M635.23 315.76V326.17M635.73 315.87V326.49M636.23 315.54V326.14M636.73 316.06V326.01M637.23 316.06V325.84M637.73 316.43V325.04M638.23 317.03V324.65M638.73 317.25V324.59M639.23 317.36V324.33M639.73 317.38V324.46M640.23 317.20V324.16M640.73 317.46V324.32M641.23 317.16V324.44M641.73 317.39V324.38M642.23 317.26V324.28M642.73 317.13V324.27M643.23 317.16V324.15M643.73 317.23V324.17M644.23 317.27V324.25M644.73 317.19V324.44M645.23 317.25V324.12M645.73 317.43V324.36M646.23 317.42V324.20M646.73 317.17V324.37M647.23 317.33V324.33M647.73 317.37V324.45M648.23 317.13V324.25M648.73 317.25V324.13M649.23 317.10V324.39M649.73 317.29V324.35M650.23 317.21V324.40M650.73 317.16V324.38M651.23 317.04V324.56M651.73 317.15V324.98M652.23 317.20V325.61M652.73 317.01V325.99M653.23 316.96V325.97M653.73 316.78V326.02M654.23 316.76V325.72M654.73 316.87V325.25M655.23 317.30V325.10M655.73 317.05V324.62M656.23 317.15V324.51M656.73 317.09V324.28M657.23 317.28V324.17M657.73 317.32V324.32M658.23 317.33V324.18M658.73 317.16V324.17M659.23 317.39V324.37M659.73 317.22V324.38M660.23 317.18V324.22M660.73 317.34V324.35M661.23 317.33V324.35M661.73 317.43V324.42M662.23 317.28V324.16M662.73 317.15V324.44M663.23 317.14V324.42M663.73 317.27V324.14M664.23 317.29V324.16M664.73 317.20V324.27M665.23 317.33V324.29M665.73 317.27V324.29M666.23 317.19V324.13M666.73 317.12V324.41M667.23 317.43V324.31M667.73 317.21V324.34M668.23 317.16V324.41M668.73 317.12V324.15M669.23 317.21V324.24M669.73 317.21V324.39M670.23 317.34V324.16M670.73 317.17V324.23M671.23 317.26V324.16M671.73 317.15V324.46M672.23 317.45V324.34M672.73 317.27V324.52M673.23 317.38V324.65M673.73 317.32V324.73M674.23 317.08V324.99M674.73 316.77V325.69M675.23 316.81V325.91M675.73 316.56V326.25M676.23 316.69V326.20M676.73 316.82V326.03M677.23 316.79V325.57M677.73 316.88V325.11M678.23 317.01V324.95M678.73 317.34V324.69M679.23 317.07V324.42M679.73 317.29V324.48M680.23 317.15V324.44" fill="none" stroke="#0000ff" stroke-width="0.75"/>
<path d="M548.73 314.51V327.75M548.98 314.30V326.53M549.23 314.97V327.81M549.48 313.24V325.97M549.73 312.37V331.27M549.98 309.97V329.38M550.23 313.70V329.15M550.48 313.88V328.24M550.73 314.49V325.24M550.98 314.89V326.68M551.23 311.86V325.94M551.48 312.95V329.71M551.73 315.95V327.02M551.98 315.66V325.10M552.23 315.51V329.05M552.48 313.80V327.96M552.73 314.94V327.68M552.98 315.32V327.47M553.23 311.24V329.09M553.48 309.94V328.60M553.73 311.29V327.32M553.98 312.79V325.32M554.23 313.86V326.56M554.48 313.54V325.19M554.73 315.91V326.14M554.98 314.24V326.97M555.23 315.64V328.41M555.48 314.09V329.66M555.73 310.37V327.17M555.98 314.46V331.13M556.23 309.46V326.78M556.48 309.80V330.88M556.73 316.76V330.18M556.98 311.46V331.01M557.23 310.74V330.37M557.48 313.74V327.41M557.73 314.76V325.89M557.98 315.27V327.01M558.23 315.28V325.54M558.48 314.56V326.09M558.73 313.21V327.76M558.98 311.76V326.27M559.23 315.88V327.46M559.48 315.55V326.00M559.73 316.38V327.20M559.98 315.74V330.06M560.23 314.83V330.83M560.48 311.95V331.04M560.73 314.34V330.22M560.98 312.70V330.98M561.23 313.77V329.76M561.48 311.25V331.53M561.73 315.36V327.10M561.98 314.08V327.60M562.23 313.98V327.36M562.48 315.08V328.14M562.73 316.10V326.06M562.98 314.37V329.01M563.23 315.01V326.83M563.48 316.22V328.47M563.73 313.42V327.12M563.98 315.47V327.19M564.23 316.50V327.86M564.48 313.43V328.49M564.73 313.85V327.43M564.98 312.86V327.82M565.23 314.41V326.41M565.48 315.49V327.43M565.73 313.17V325.61M565.98 314.14V329.21M566.23 312.49V328.73M566.48 314.74V325.42M566.73 315.50V324.89M566.98 316.33V325.65M567.23 315.54V326.72M567.48 315.24V327.01M567.73 314.29V326.31M567.98 315.70V326.36M568.23 313.45V326.03M568.48 315.65V326.44M568.73 313.53V324.89M568.98 315.62V326.50M569.23 314.21V325.42M569.48 311.67V328.90M569.73 313.20V326.88M569.98 313.58V325.86M570.23 315.16V326.51M570.48 315.39V327.74M570.73 312.49V326.27M570.98 310.94V328.45M571.23 315.56V331.29M571.48 314.79V330.80M571.73 310.29V327.97M571.98 313.05V326.75M572.23 314.39V326.89M572.48 315.83V325.26M572.73 312.39V325.66M572.98 315.11V327.32M573.23 315.81V327.34M573.48 314.50V327.91M573.73 313.75V329.84M573.98 315.25V331.53M574.23 309.34V329.88M574.48 308.82V329.81M574.73 313.33V333.28M574.98 311.08V329.25M575.23 309.19V333.50M575.48 312.16V332.51M575.73 311.83V332.70M575.98 314.04V330.51M576.23 313.85V326.84M576.48 315.27V328.32M576.73 313.46V327.52M576.98 315.65V326.43M577.23 316.14V326.12M577.48 312.31V326.84M577.73 315.24V326.20M577.98 313.60V326.11M578.23 313.18V328.66M578.48 314.84V328.83M578.73 312.44V328.93M578.98 314.57V327.62M579.23 315.00V327.96M579.48 315.78V325.60M579.73 311.84V325.87M579.98 315.13V328.38M580.23 312.68V327.26M580.48 314.93V326.72M580.73 314.05V326.67M580.98 316.03V328.08M581.23 310.89V329.34M581.48 309.39V325.29M581.73 310.80V329.21M581.98 314.54V330.64M582.23 309.29V330.57M582.48 310.46V331.03M582.73 313.96V329.02M582.98 309.43V329.10M583.23 315.01V325.57M583.48 314.77V328.74M583.73 316.24V328.49M583.98 312.84V329.55M584.23 313.86V329.27M584.48 315.65V325.58M584.73 313.43V326.07M584.98 311.42V327.40M585.23 315.30V329.57M585.48 311.48V326.84M585.73 314.25V330.34M585.98 311.94V329.46M586.23 313.32V330.38M586.48 314.53V327.04M586.73 316.60V326.46M586.98 315.24V324.83M587.23 315.23V326.33M587.48 314.32V327.16M587.73 316.20V326.14M587.98 313.33V326.43M588.23 316.42V328.70M588.48 314.75V329.13M588.73 312.14V327.33M588.98 315.18V329.81M589.23 314.77V328.39M589.48 314.33V326.20M589.73 313.92V325.59M589.98 313.23V327.28M590.23 314.88V327.12M590.48 312.77V328.06M590.73 316.09V326.28M590.98 310.17V330.04M591.23 311.02V330.76M591.48 309.79V328.55M591.73 313.91V327.89M591.98 312.02V331.29M592.23 311.05V330.86M592.48 316.04V326.27M592.73 311.60V328.10M592.98 312.25V327.62M593.23 311.53V327.10M593.48 314.85V328.25M593.73 311.80V328.71M593.98 313.23V327.06M594.23 315.61V326.43M594.48 316.07V327.70M594.73 314.04V326.60M594.98 315.67V325.48M595.23 315.62V325.39M595.48 315.05V326.33M595.73 314.45V327.55M595.98 316.41V326.90M596.23 315.95V325.64M596.48 314.07V327.00M596.73 313.88V324.74M596.98 314.59V327.36M597.23 312.68V328.37M597.48 314.85V326.17M597.73 314.45V326.76M597.98 314.59V326.41M598.23 314.93V325.75M598.48 315.24V327.56M598.73 313.11V326.55M598.98 314.76V324.90M599.23 314.06V326.30M599.48 313.90V328.02M599.73 311.99V327.95M599.98 315.31V324.89M600.23 314.37V326.47M600.48 315.75V326.51M600.73 314.53V326.30M600.98 315.44V326.69M601.23 316.59V327.31M601.48 314.53V326.15M601.73 315.35V327.61M601.98 315.63V326.34M602.23 315.45V325.22M602.48 316.56V326.99M602.73 314.43V325.90M602.98 314.11V327.61M603.23 312.19V327.94M603.48 311.11V329.84M603.73 311.11V331.50M603.98 309.71V333.54M604.23 309.58V330.62M604.48 307.96V332.26M604.73 312.85V328.48M604.98 312.77V332.82M605.23 311.60V332.01M605.48 307.17V331.54M605.73 304.40V331.35M605.98 303.93V338.52M606.23 302.41V336.04M606.48 303.39V338.21M606.73 310.85V333.19M606.98 310.91V331.48M607.23 310.30V334.65M607.48 311.92V335.34M607.73 308.64V329.12M607.98 307.66V335.33M608.23 313.74V331.87M608.48 310.56V332.37M608.73 314.19V331.73M608.98 312.79V326.69M609.23 313.52V327.36M609.48 315.63V329.14M609.73 314.78V326.72M609.98 314.96V328.97M610.23 314.21V330.26M610.48 310.89V331.72M610.73 312.29V330.20M610.98 309.38V326.28M611.23 309.68V331.03M611.48 311.01V326.70M611.73 313.92V326.12M611.98 312.94V326.38M612.23 316.62V325.20M612.48 313.23V325.61M612.73 314.12V328.26M612.98 310.80V330.24M613.23 315.92V327.24M613.48 312.99V327.25M613.73 316.23V327.25M613.98 315.96V325.48M614.23 313.58V327.31M614.48 314.94V330.09M614.73 311.56V326.32M614.98 312.95V328.23M615.23 315.13V326.16M615.48 314.72V327.27M615.73 315.69V325.13M615.98 316.71V326.81M616.23 314.88V325.63M616.48 314.65V327.23M616.73 313.95V325.74M616.98 314.23V325.84M617.23 315.61V325.05M617.48 314.25V325.83M617.73 313.92V326.61M617.98 316.10V328.77M618.23 312.66V327.87M618.48 314.62V328.84M618.73 313.91V328.96M618.98 313.21V325.62M619.23 313.72V326.69M619.48 314.66V328.81M619.73 311.82V328.69M619.98 315.62V327.96M620.23 313.24V327.10M620.48 315.52V327.03M620.73 313.46V324.83M620.98 314.13V325.00M621.23 313.61V326.34M621.48 311.69V326.06M621.73 311.45V326.93M621.98 311.87V329.77M622.23 311.37V329.64M622.48 310.46V329.56M622.73 313.95V329.20M622.98 310.70V331.04M623.23 314.15V327.42M623.48 312.23V329.60M623.73 313.00V328.56M623.98 311.23V331.13M624.23 311.20V328.12M624.48 309.78V327.47M624.73 310.11V330.32M624.98 315.25V330.52M625.23 314.20V330.08M625.48 315.51V330.39M625.73 310.81V327.16M625.98 312.95V329.52M626.23 309.41V329.18M626.48 313.88V330.98M626.73 309.50V328.43M626.98 310.56V327.52M627.23 311.05V327.60M627.48 312.95V327.75M627.73 313.20V328.23M627.98 316.21V326.42M628.23 313.76V326.98M628.48 313.57V326.33M628.73 314.55V326.09M628.98 314.51V327.54M629.23 315.79V326.30M629.48 314.79V325.32M629.73 314.55V327.30M629.98 315.88V325.24M630.23 316.66V325.77M630.48 313.18V326.89M630.73 313.80V327.46M630.98 315.81V324.72M631.23 314.87V326.78M631.48 314.06V325.54M631.73 312.19V327.67M631.98 313.58V327.76M632.23 313.06V327.31M632.48 313.01V326.81M632.73 316.10V326.88M632.98 315.03V327.41M633.23 312.64V326.58M633.48 311.84V327.92M633.73 310.70V326.80M633.98 314.49V328.33M634.23 310.91V326.56M634.48 313.66V331.12M634.73 310.23V328.84M634.98 309.72V333.00M635.23 311.23V328.88M635.48 309.61V333.02M635.73 310.81V332.16M635.98 308.95V331.67M636.23 311.87V331.44M636.48 314.75V327.27M636.73 312.91V329.96M636.98 315.32V326.66M637.23 315.25V327.17M637.48 313.25V329.97M637.73 312.29V329.85M637.98 314.54V332.73M638.23 312.23V332.16M638.48 313.22V328.92M638.73 314.36V326.99M638.98 315.02V325.65M639.23 316.48V325.07M639.48 316.30V327.91M639.73 315.26V328.16M639.98 313.18V325.27M640.23 312.50V327.01M640.48 313.65V327.76M640.73 316.36V326.87M640.98 314.41V325.76M641.23 313.97V327.61M641.48 313.19V326.53M641.73 313.61V326.16M641.98 315.97V326.10M642.23 314.94V325.92M642.48 313.83V327.15M642.73 315.91V328.27M642.98 312.76V325.85M643.23 315.05V327.54M643.48 313.93V326.26M643.73 314.18V327.18M643.98 313.36V325.89M644.23 316.51V325.02M644.48 314.41V326.83M644.73 314.14V325.85M644.98 315.23V326.50M645.23 315.92V325.55M645.48 315.52V325.50M645.73 314.28V325.98M645.98 313.90V327.53M646.23 314.11V328.56M646.48 312.79V326.47M646.73 313.36V325.97M646.98 315.90V326.06M647.23 313.14V327.37M647.48 316.40V326.15M647.73 314.99V324.81M647.98 315.15V326.76M648.23 313.66V327.23M648.48 314.26V329.49M648.73 315.78V327.89M648.98 315.32V325.35M649.23 311.69V328.01M649.48 313.86V325.71M649.73 310.63V327.70M649.98 312.21V325.72M650.23 310.30V329.32M650.48 313.23V326.70M650.73 312.65V328.64M650.98 314.82V325.94M651.23 314.50V330.63M651.48 314.46V331.76M651.73 315.39V329.77M651.98 315.61V328.62M652.23 314.63V327.18M652.48 314.46V330.45M652.73 310.98V328.76M652.98 313.65V331.31M653.23 308.42V328.72M653.48 313.33V332.69M653.73 312.69V330.39M653.98 312.22V335.98M654.23 312.87V332.16M654.48 311.86V329.85M654.73 310.92V329.00M654.98 315.73V327.30M655.23 315.34V326.14M655.48 316.55V325.42M655.73 313.99V327.59M655.98 315.97V325.68M656.23 314.32V328.34M656.48 313.17V328.48M656.73 315.61V327.64M656.98 316.30V325.39M657.23 315.01V328.32M657.48 311.09V328.42M657.73 315.28V330.27M657.98 311.18V327.16M658.23 315.50V328.01M658.48 315.55V327.56M658.73 313.91V325.50M658.98 315.02V326.19M659.23 315.23V327.44M659.48 313.37V328.13M659.73 315.90V327.89M659.98 314.47V324.73M660.23 314.25V327.57M660.48 311.71V326.81M660.73 313.00V328.77M660.98 313.20V326.06M661.23 312.33V326.88M661.48 313.77V326.77M661.73 316.05V327.63M661.98 314.38V326.88M662.23 315.97V326.83M662.48 314.86V324.73M662.73 312.96V325.89M662.98 313.67V327.94M663.23 312.47V326.29M663.48 314.60V328.47M663.73 316.70V325.80M663.98 316.43V327.13M664.23 316.20V325.65M664.48 313.85V331.02M664.73 313.47V326.55M664.98 313.12V328.50M665.23 311.12V328.38M665.48 310.60V327.88M665.73 310.88V328.88M665.98 312.29V327.81M666.23 313.90V327.12M666.48 314.10V327.88M666.73 314.16V328.31M666.98 313.78V328.68M667.23 315.47V326.65M667.48 316.22V326.91M667.73 310.57V325.25M667.98 314.84V326.06M668.23 312.35V328.38M668.48 315.66V324.86M668.73 316.37V325.84M668.98 313.30V326.36M669.23 314.51V325.21M669.48 313.01V326.04M669.73 313.68V326.34M669.98 312.37V326.80M670.23 315.22V325.24M670.48 315.38V324.99M670.73 313.84V329.41M670.98 312.42V328.95M671.23 312.27V328.32M671.48 313.92V325.63M671.73 313.94V327.30M671.98 314.51V327.72M672.23 314.08V326.98M672.48 313.54V326.72M672.73 311.82V328.80M672.98 314.07V325.36M673.23 315.62V328.90M673.48 312.93V331.15M673.73 310.79V332.45M673.98 309.60V333.05M674.23 308.82V330.58M674.48 310.09V326.85M674.73 309.28V330.93M674.98 309.40V330.52M675.23 309.69V332.98M675.48 311.44V333.54M675.73 309.79V335.13M675.98 310.11V330.75M676.23 315.74V331.13M676.48 314.63V328.47M676.73 310.13V333.13M676.98 312.49V330.04M677.23 315.33V327.90M677.48 312.75V328.33M677.73 315.96V327.91M677.98 314.70V328.33M678.23 315.52V325.91M678.48 315.98V326.38M678.73 316.19V326.01M678.98 316.59V325.07M679.23 315.69V325.18M679.48 316.29V325.68M679.73 314.25V326.43M679.98 315.16V326.99M680.23 314.20V326.98M680.48 313.84V327.27" fill="none" stroke="#0000ff" stroke-width="0.40"/>
<text x="614.60" y="270.1" text-anchor="middle" font-size="4.6" font-weight="bold" fill="#222">C<tspan font-size="3.8" dy="1.6" font-style="italic">dpe</tspan><tspan dy="-1.6" font-style="italic">=38</tspan></text>
<text x="614.60" y="389" text-anchor="middle" font-size="4.6" fill="#1e1e1e">Time (s)</text>
<text transform="translate(538.00 325.2) rotate(-90)" text-anchor="middle" font-size="4.6" fill="#1e1e1e"><tspan font-weight="bold">V</tspan><tspan font-size="3.4" dy="1.5">trc</tspan><tspan dy="-1.5"> (mv)</tspan></text>
<path d="M65.80 552.70h2.05V545.78h-2.05zM67.85 552.70h2.05V545.78h-2.05zM69.90 552.70h2.05V538.86h-2.05zM71.95 552.70h2.05V542.32h-2.05zM74.00 552.70h2.05V535.40h-2.05zM76.05 552.70h2.05V518.10h-2.05zM78.10 552.70h2.05V528.48h-2.05zM80.15 552.70h2.05V518.10h-2.05zM82.20 552.70h2.05V497.34h-2.05zM84.25 552.70h2.05V511.18h-2.05zM86.30 552.70h2.05V476.58h-2.05zM88.35 552.70h2.05V493.88h-2.05zM90.40 552.70h2.05V490.42h-2.05zM92.45 552.70h2.05V511.18h-2.05zM94.50 552.70h2.05V493.88h-2.05zM96.55 552.70h2.05V469.66h-2.05zM98.60 552.70h2.05V504.26h-2.05zM100.65 552.70h2.05V486.96h-2.05zM102.70 552.70h2.05V462.74h-2.05zM104.75 552.70h2.05V469.66h-2.05zM106.80 552.70h2.05V493.88h-2.05zM108.85 552.70h2.05V469.66h-2.05zM110.90 552.70h2.05V462.74h-2.05zM112.95 552.70h2.05V511.18h-2.05zM115.00 552.70h2.05V480.04h-2.05zM117.05 552.70h2.05V486.96h-2.05zM119.10 552.70h2.05V525.02h-2.05zM121.15 552.70h2.05V507.72h-2.05zM123.20 552.70h2.05V511.18h-2.05zM125.25 552.70h2.05V518.10h-2.05zM127.30 552.70h2.05V507.72h-2.05zM129.35 552.70h2.05V521.56h-2.05zM131.40 552.70h2.05V525.02h-2.05zM133.45 552.70h2.05V525.02h-2.05zM135.50 552.70h2.05V538.86h-2.05zM137.55 552.70h2.05V531.94h-2.05zM139.60 552.70h2.05V535.40h-2.05zM141.65 552.70h2.05V531.94h-2.05zM143.70 552.70h2.05V538.86h-2.05zM145.75 552.70h2.05V545.78h-2.05zM147.80 552.70h2.05V549.24h-2.05zM149.85 552.70h2.05V545.78h-2.05zM151.90 552.70h2.05V549.24h-2.05zM153.95 552.70h2.05V549.24h-2.05zM158.05 552.70h2.05V549.24h-2.05zM162.15 552.70h2.05V542.32h-2.05zM166.25 552.70h2.05V549.24h-2.05z" fill="#0000ff" stroke="#0000c0" stroke-width="0.35"/>
<path d="M37.50 552.70v-1.10M37.50 448.90v1.10M56.56 552.70v-1.10M56.56 448.90v1.10M75.62 552.70v-1.10M75.62 448.90v1.10M94.68 552.70v-1.10M94.68 448.90v1.10M113.74 552.70v-1.10M113.74 448.90v1.10M132.80 552.70v-1.10M132.80 448.90v1.10M151.86 552.70v-1.10M151.86 448.90v1.10M37.50 552.70h1.10M169.50 552.70h-1.10M37.50 535.40h1.10M169.50 535.40h-1.10M37.50 518.10h1.10M169.50 518.10h-1.10M37.50 500.80h1.10M169.50 500.80h-1.10M37.50 483.50h1.10M169.50 483.50h-1.10M37.50 466.20h1.10M169.50 466.20h-1.10M37.50 448.90h1.10M169.50 448.90h-1.10" stroke="#a9a9a9" stroke-width="0.6" fill="none"/>
<rect x="37.50" y="448.90" width="132.00" height="103.80" fill="none" stroke="#a9a9a9" stroke-width="0.90"/>
<g font-size="3.90" fill="#1e1e1e"><text x="37.50" y="558.70" text-anchor="middle">6</text><text x="56.56" y="558.70" text-anchor="middle">7</text><text x="75.62" y="558.70" text-anchor="middle">8</text><text x="94.68" y="558.70" text-anchor="middle">9</text><text x="113.74" y="558.70" text-anchor="middle">10</text><text x="132.80" y="558.70" text-anchor="middle">11</text><text x="151.86" y="558.70" text-anchor="middle">12</text><text x="35.70" y="554.49" text-anchor="end">0</text><text x="35.70" y="537.19" text-anchor="end">5</text><text x="35.70" y="519.89" text-anchor="end">10</text><text x="35.70" y="502.59" text-anchor="end">15</text><text x="35.70" y="485.29" text-anchor="end">20</text><text x="35.70" y="467.99" text-anchor="end">25</text><text x="35.70" y="450.69" text-anchor="end">30</text></g>
<polyline points="50.27,551.87 51.54,551.68 52.81,551.46 54.09,551.20 55.36,550.90 56.63,550.54 57.90,550.12 59.17,549.63 60.45,549.07 61.72,548.42 62.99,547.68 64.26,546.84 65.54,545.90 66.81,544.83 68.08,543.64 69.35,542.32 70.62,540.86 71.90,539.25 73.17,537.49 74.44,535.58 75.71,533.52 76.98,531.31 78.26,528.96 79.53,526.46 80.80,523.83 82.07,521.09 83.34,518.24 84.62,515.30 85.89,512.29 87.16,509.25 88.43,506.18 89.71,503.12 90.98,500.11 92.25,497.16 93.52,494.31 94.79,491.60 96.07,489.05 97.34,486.69 98.61,484.55 99.88,482.67 101.15,481.06 102.43,479.75 103.70,478.75 104.97,478.07 106.24,477.73 107.51,477.73 108.79,478.07 110.06,478.75 111.33,479.75 112.60,481.06 113.87,482.67 115.15,484.55 116.42,486.69 117.69,489.05 118.96,491.60 120.24,494.31 121.51,497.16 122.78,500.11 124.05,503.12 125.32,506.18 126.60,509.25 127.87,512.29 129.14,515.30 130.41,518.24 131.68,521.09 132.96,523.83 134.23,526.46 135.50,528.96 136.77,531.31 138.04,533.52 139.32,535.58 140.59,537.49 141.86,539.25 143.13,540.86 144.41,542.32 145.68,543.64 146.95,544.83 148.22,545.90 149.49,546.84 150.77,547.68 152.04,548.42 153.31,549.07 154.58,549.63 155.85,550.12 157.13,550.54 158.40,550.90 159.67,551.20 160.94,551.46 162.21,551.68 163.49,551.87" fill="none" stroke="#ff0000" stroke-width="0.85"/>
<text x="103.50" y="445.2" text-anchor="middle" font-size="4.6" font-weight="bold" fill="#222">C<tspan font-size="3.8" dy="1.6" font-style="italic">dpe</tspan><tspan dy="-1.6" font-style="italic">=68</tspan></text>
<text x="103.50" y="565" text-anchor="middle" font-size="4.4" fill="#1e1e1e">Amplitude (mv)</text>
<text transform="translate(28.30 500.8) rotate(-90)" text-anchor="middle" font-size="4.3" fill="#1e1e1e">Frequency</text>
<text x="119.70" y="489.80" font-size="3.6" fill="#222">&#956;=9.63</text>
<text x="122.10" y="494.80" font-size="3.6" fill="#222">&#963;=0.99</text>
<path d="M232.00 552.70h2.12V549.73h-2.12zM236.24 552.70h2.12V543.80h-2.12zM238.36 552.70h2.12V537.87h-2.12zM240.48 552.70h2.12V540.84h-2.12zM242.60 552.70h2.12V511.18h-2.12zM244.72 552.70h2.12V534.91h-2.12zM246.84 552.70h2.12V523.04h-2.12zM248.96 552.70h2.12V517.11h-2.12zM251.08 552.70h2.12V493.39h-2.12zM253.20 552.70h2.12V466.69h-2.12zM255.32 552.70h2.12V475.59h-2.12zM257.44 552.70h2.12V475.59h-2.12zM259.56 552.70h2.12V448.90h-2.12zM261.68 552.70h2.12V460.76h-2.12zM263.80 552.70h2.12V475.59h-2.12zM265.92 552.70h2.12V484.49h-2.12zM268.04 552.70h2.12V478.56h-2.12zM270.16 552.70h2.12V478.56h-2.12zM272.28 552.70h2.12V502.28h-2.12zM274.40 552.70h2.12V481.52h-2.12zM276.52 552.70h2.12V484.49h-2.12zM278.64 552.70h2.12V511.18h-2.12zM280.76 552.70h2.12V490.42h-2.12zM282.88 552.70h2.12V508.21h-2.12zM285.00 552.70h2.12V508.21h-2.12zM287.12 552.70h2.12V531.94h-2.12zM289.24 552.70h2.12V531.94h-2.12zM291.36 552.70h2.12V534.91h-2.12zM293.48 552.70h2.12V537.87h-2.12zM295.60 552.70h2.12V543.80h-2.12zM297.72 552.70h2.12V543.80h-2.12zM299.84 552.70h2.12V543.80h-2.12zM301.96 552.70h2.12V543.80h-2.12zM304.08 552.70h2.12V543.80h-2.12zM306.20 552.70h2.12V540.84h-2.12zM308.32 552.70h2.12V549.73h-2.12zM310.44 552.70h2.12V549.73h-2.12zM312.56 552.70h2.12V549.73h-2.12zM314.68 552.70h2.12V546.77h-2.12zM335.88 552.70h2.12V549.73h-2.12z" fill="#0000ff" stroke="#0000c0" stroke-width="0.35"/>
<path d="M208.10 552.70v-1.10M208.10 448.90v1.10M228.28 552.70v-1.10M228.28 448.90v1.10M248.46 552.70v-1.10M248.46 448.90v1.10M268.64 552.70v-1.10M268.64 448.90v1.10M288.82 552.70v-1.10M288.82 448.90v1.10M309.00 552.70v-1.10M309.00 448.90v1.10M329.18 552.70v-1.10M329.18 448.90v1.10M208.10 552.70h1.10M340.10 552.70h-1.10M208.10 537.87h1.10M340.10 537.87h-1.10M208.10 523.04h1.10M340.10 523.04h-1.10M208.10 508.21h1.10M340.10 508.21h-1.10M208.10 493.39h1.10M340.10 493.39h-1.10M208.10 478.56h1.10M340.10 478.56h-1.10M208.10 463.73h1.10M340.10 463.73h-1.10M208.10 448.90h1.10M340.10 448.90h-1.10" stroke="#a9a9a9" stroke-width="0.6" fill="none"/>
<rect x="208.10" y="448.90" width="132.00" height="103.80" fill="none" stroke="#a9a9a9" stroke-width="0.90"/>
<g font-size="3.90" fill="#1e1e1e"><text x="208.10" y="558.70" text-anchor="middle">6</text><text x="228.28" y="558.70" text-anchor="middle">7</text><text x="248.46" y="558.70" text-anchor="middle">8</text><text x="268.64" y="558.70" text-anchor="middle">9</text><text x="288.82" y="558.70" text-anchor="middle">10</text><text x="309.00" y="558.70" text-anchor="middle">11</text><text x="329.18" y="558.70" text-anchor="middle">12</text><text x="206.30" y="554.49" text-anchor="end">0</text><text x="206.30" y="539.67" text-anchor="end">5</text><text x="206.30" y="524.84" text-anchor="end">10</text><text x="206.30" y="510.01" text-anchor="end">15</text><text x="206.30" y="495.18" text-anchor="end">20</text><text x="206.30" y="480.35" text-anchor="end">25</text><text x="206.30" y="465.52" text-anchor="end">30</text><text x="206.30" y="450.69" text-anchor="end">35</text></g>
<polyline points="223.03,551.78 224.05,551.58 225.07,551.33 226.09,551.05 227.11,550.71 228.13,550.31 229.16,549.85 230.18,549.31 231.20,548.69 232.22,547.98 233.24,547.16 234.26,546.23 235.28,545.19 236.30,544.01 237.32,542.70 238.34,541.24 239.36,539.62 240.38,537.85 241.40,535.91 242.42,533.80 243.44,531.53 244.46,529.09 245.48,526.49 246.50,523.73 247.52,520.83 248.54,517.80 249.56,514.65 250.58,511.41 251.60,508.09 252.62,504.72 253.64,501.34 254.66,497.96 255.68,494.63 256.70,491.38 257.72,488.23 258.74,485.24 259.77,482.42 260.79,479.82 261.81,477.46 262.83,475.38 263.85,473.60 264.87,472.15 265.89,471.05 266.91,470.30 267.93,469.93 268.95,469.93 269.97,470.30 270.99,471.05 272.01,472.15 273.03,473.60 274.05,475.38 275.07,477.46 276.09,479.82 277.11,482.42 278.13,485.24 279.15,488.23 280.17,491.38 281.19,494.63 282.21,497.96 283.23,501.34 284.25,504.72 285.27,508.09 286.29,511.41 287.31,514.65 288.33,517.80 289.36,520.83 290.38,523.73 291.40,526.49 292.42,529.09 293.44,531.53 294.46,533.80 295.48,535.91 296.50,537.85 297.52,539.62 298.54,541.24 299.56,542.70 300.58,544.01 301.60,545.19 302.62,546.23 303.64,547.16 304.66,547.98 305.68,548.69 306.70,549.31 307.72,549.85 308.74,550.31 309.76,550.71 310.78,551.05 311.80,551.33 312.82,551.58 313.84,551.78" fill="none" stroke="#ff0000" stroke-width="0.85"/>
<text x="274.10" y="445.2" text-anchor="middle" font-size="4.6" font-weight="bold" fill="#222">C<tspan font-size="3.8" dy="1.6" font-style="italic">dpe</tspan><tspan dy="-1.6" font-style="italic">=48</tspan></text>
<text x="274.10" y="565" text-anchor="middle" font-size="4.4" fill="#1e1e1e">Amplitude (mv)</text>
<text transform="translate(198.90 500.8) rotate(-90)" text-anchor="middle" font-size="4.3" fill="#1e1e1e">Frequency</text>
<text x="285.10" y="494.30" font-size="3.6" fill="#222">&#956;=8.96</text>
<text x="287.00" y="499.70" font-size="3.6" fill="#222">&#963;=0.75</text>
<path d="M390.40 552.70h2.37V549.73h-2.37zM392.77 552.70h2.37V549.73h-2.37zM397.52 552.70h2.37V549.73h-2.37zM399.90 552.70h2.37V546.77h-2.37zM402.27 552.70h2.37V543.80h-2.37zM404.64 552.70h2.37V543.80h-2.37zM407.02 552.70h2.37V534.91h-2.37zM409.39 552.70h2.37V534.91h-2.37zM411.77 552.70h2.37V528.97h-2.37zM414.14 552.70h2.37V502.28h-2.37zM416.51 552.70h2.37V526.01h-2.37zM418.89 552.70h2.37V505.25h-2.37zM421.26 552.70h2.37V502.28h-2.37zM423.64 552.70h2.37V487.45h-2.37zM426.01 552.70h2.37V475.59h-2.37zM428.38 552.70h2.37V490.42h-2.37zM430.76 552.70h2.37V478.56h-2.37zM433.13 552.70h2.37V469.66h-2.37zM435.51 552.70h2.37V451.87h-2.37zM437.88 552.70h2.37V490.42h-2.37zM440.25 552.70h2.37V502.28h-2.37zM442.63 552.70h2.37V481.52h-2.37zM445.00 552.70h2.37V484.49h-2.37zM447.38 552.70h2.37V484.49h-2.37zM449.75 552.70h2.37V493.39h-2.37zM452.12 552.70h2.37V505.25h-2.37zM454.50 552.70h2.37V517.11h-2.37zM456.87 552.70h2.37V511.18h-2.37zM459.25 552.70h2.37V508.21h-2.37zM461.62 552.70h2.37V531.94h-2.37zM463.99 552.70h2.37V526.01h-2.37zM466.37 552.70h2.37V514.15h-2.37zM468.74 552.70h2.37V528.97h-2.37zM471.12 552.70h2.37V537.87h-2.37zM473.49 552.70h2.37V543.80h-2.37zM475.86 552.70h2.37V546.77h-2.37zM478.24 552.70h2.37V534.91h-2.37zM480.61 552.70h2.37V537.87h-2.37zM482.99 552.70h2.37V546.77h-2.37zM485.36 552.70h2.37V549.73h-2.37zM487.73 552.70h2.37V543.80h-2.37zM490.11 552.70h2.37V543.80h-2.37zM506.73 552.70h2.37V549.73h-2.37z" fill="#0000ff" stroke="#0000c0" stroke-width="0.35"/>
<path d="M378.20 552.70v-1.10M378.20 448.90v1.10M397.90 552.70v-1.10M397.90 448.90v1.10M417.60 552.70v-1.10M417.60 448.90v1.10M437.30 552.70v-1.10M437.30 448.90v1.10M457.00 552.70v-1.10M457.00 448.90v1.10M476.70 552.70v-1.10M476.70 448.90v1.10M496.40 552.70v-1.10M496.40 448.90v1.10M378.20 552.70h1.10M510.20 552.70h-1.10M378.20 537.87h1.10M510.20 537.87h-1.10M378.20 523.04h1.10M510.20 523.04h-1.10M378.20 508.21h1.10M510.20 508.21h-1.10M378.20 493.39h1.10M510.20 493.39h-1.10M378.20 478.56h1.10M510.20 478.56h-1.10M378.20 463.73h1.10M510.20 463.73h-1.10M378.20 448.90h1.10M510.20 448.90h-1.10" stroke="#a9a9a9" stroke-width="0.6" fill="none"/>
<rect x="378.20" y="448.90" width="132.00" height="103.80" fill="none" stroke="#a9a9a9" stroke-width="0.90"/>
<g font-size="3.90" fill="#1e1e1e"><text x="378.20" y="558.70" text-anchor="middle">5</text><text x="397.90" y="558.70" text-anchor="middle">5.5</text><text x="417.60" y="558.70" text-anchor="middle">6</text><text x="437.30" y="558.70" text-anchor="middle">6.5</text><text x="457.00" y="558.70" text-anchor="middle">7</text><text x="476.70" y="558.70" text-anchor="middle">7.5</text><text x="496.40" y="558.70" text-anchor="middle">8</text><text x="376.40" y="554.49" text-anchor="end">0</text><text x="376.40" y="539.67" text-anchor="end">5</text><text x="376.40" y="524.84" text-anchor="end">10</text><text x="376.40" y="510.01" text-anchor="end">15</text><text x="376.40" y="495.18" text-anchor="end">20</text><text x="376.40" y="480.35" text-anchor="end">25</text><text x="376.40" y="465.52" text-anchor="end">30</text><text x="376.40" y="450.69" text-anchor="end">35</text></g>
<polyline points="382.53,551.88 383.81,551.69 385.08,551.48 386.36,551.22 387.63,550.91 388.91,550.56 390.18,550.14 391.46,549.66 392.73,549.10 394.01,548.46 395.28,547.73 396.56,546.90 397.83,545.97 399.11,544.91 400.38,543.73 401.66,542.42 402.93,540.98 404.21,539.38 405.48,537.65 406.76,535.76 408.03,533.72 409.31,531.53 410.58,529.20 411.86,526.73 413.13,524.13 414.41,521.41 415.68,518.58 416.96,515.68 418.23,512.70 419.51,509.68 420.78,506.65 422.06,503.62 423.33,500.64 424.61,497.72 425.88,494.90 427.16,492.21 428.43,489.69 429.71,487.36 430.98,485.24 432.26,483.38 433.53,481.78 434.81,480.48 436.08,479.49 437.36,478.82 438.63,478.49 439.91,478.49 441.18,478.82 442.46,479.49 443.73,480.48 445.01,481.78 446.28,483.38 447.56,485.24 448.83,487.36 450.11,489.69 451.38,492.21 452.66,494.90 453.93,497.72 455.21,500.64 456.48,503.62 457.76,506.65 459.03,509.68 460.31,512.70 461.58,515.68 462.86,518.58 464.13,521.41 465.41,524.13 466.68,526.73 467.96,529.20 469.23,531.53 470.51,533.72 471.78,535.76 473.06,537.65 474.33,539.38 475.61,540.98 476.88,542.42 478.16,543.73 479.43,544.91 480.71,545.97 481.98,546.90 483.26,547.73 484.53,548.46 485.81,549.10 487.08,549.66 488.36,550.14 489.63,550.56 490.91,550.91 492.18,551.22 493.46,551.48 494.73,551.69 496.01,551.88" fill="none" stroke="#ff0000" stroke-width="0.85"/>
<text x="444.20" y="445.2" text-anchor="middle" font-size="4.6" font-weight="bold" fill="#222">C<tspan font-size="3.8" dy="1.6" font-style="italic">dpe</tspan><tspan dy="-1.6" font-style="italic">=41</tspan></text>
<text x="444.20" y="565" text-anchor="middle" font-size="4.4" fill="#1e1e1e">Amplitude (mv)</text>
<text transform="translate(369.00 500.8) rotate(-90)" text-anchor="middle" font-size="4.3" fill="#1e1e1e">Frequency</text>
<text x="453.80" y="490.50" font-size="3.6" fill="#222">&#956;=6.57</text>
<text x="455.50" y="494.70" font-size="3.6" fill="#222">&#963;=0.48</text>
<path d="M566.30 552.70h2.26V550.39h-2.26zM573.07 552.70h2.26V548.09h-2.26zM575.33 552.70h2.26V548.09h-2.26zM577.59 552.70h2.26V550.39h-2.26zM579.85 552.70h2.26V536.55h-2.26zM582.11 552.70h2.26V522.71h-2.26zM584.36 552.70h2.26V518.10h-2.26zM586.62 552.70h2.26V513.49h-2.26zM588.88 552.70h2.26V515.79h-2.26zM591.14 552.70h2.26V515.79h-2.26zM593.40 552.70h2.26V501.95h-2.26zM595.65 552.70h2.26V490.42h-2.26zM597.91 552.70h2.26V481.19h-2.26zM600.17 552.70h2.26V471.97h-2.26zM602.43 552.70h2.26V490.42h-2.26zM604.69 552.70h2.26V458.13h-2.26zM606.94 552.70h2.26V515.79h-2.26zM609.20 552.70h2.26V488.11h-2.26zM611.46 552.70h2.26V499.65h-2.26zM613.72 552.70h2.26V488.11h-2.26zM615.98 552.70h2.26V501.95h-2.26zM618.23 552.70h2.26V508.87h-2.26zM620.49 552.70h2.26V522.71h-2.26zM622.75 552.70h2.26V513.49h-2.26zM625.01 552.70h2.26V520.41h-2.26zM627.27 552.70h2.26V527.33h-2.26zM629.52 552.70h2.26V545.78h-2.26zM631.78 552.70h2.26V545.78h-2.26zM634.04 552.70h2.26V538.86h-2.26zM636.30 552.70h2.26V545.78h-2.26zM638.56 552.70h2.26V545.78h-2.26zM640.81 552.70h2.26V548.09h-2.26zM643.07 552.70h2.26V541.17h-2.26zM645.33 552.70h2.26V548.09h-2.26zM647.59 552.70h2.26V545.78h-2.26zM649.85 552.70h2.26V550.39h-2.26zM652.10 552.70h2.26V550.39h-2.26zM654.36 552.70h2.26V550.39h-2.26zM656.62 552.70h2.26V550.39h-2.26zM663.39 552.70h2.26V550.39h-2.26zM676.94 552.70h2.26V550.39h-2.26z" fill="#0000ff" stroke="#0000c0" stroke-width="0.35"/>
<path d="M548.60 552.70v-1.10M548.60 448.90v1.10M570.68 552.70v-1.10M570.68 448.90v1.10M592.75 552.70v-1.10M592.75 448.90v1.10M614.83 552.70v-1.10M614.83 448.90v1.10M636.90 552.70v-1.10M636.90 448.90v1.10M658.98 552.70v-1.10M658.98 448.90v1.10M548.60 552.70h1.10M680.60 552.70h-1.10M548.60 541.17h1.10M680.60 541.17h-1.10M548.60 529.63h1.10M680.60 529.63h-1.10M548.60 518.10h1.10M680.60 518.10h-1.10M548.60 506.57h1.10M680.60 506.57h-1.10M548.60 495.03h1.10M680.60 495.03h-1.10M548.60 483.50h1.10M680.60 483.50h-1.10M548.60 471.97h1.10M680.60 471.97h-1.10M548.60 460.43h1.10M680.60 460.43h-1.10M548.60 448.90h1.10M680.60 448.90h-1.10" stroke="#a9a9a9" stroke-width="0.6" fill="none"/>
<rect x="548.60" y="448.90" width="132.00" height="103.80" fill="none" stroke="#a9a9a9" stroke-width="0.90"/>
<g font-size="3.90" fill="#1e1e1e"><text x="548.60" y="558.70" text-anchor="middle">3.5</text><text x="570.68" y="558.70" text-anchor="middle">4</text><text x="592.75" y="558.70" text-anchor="middle">4.5</text><text x="614.83" y="558.70" text-anchor="middle">5</text><text x="636.90" y="558.70" text-anchor="middle">5.5</text><text x="658.98" y="558.70" text-anchor="middle">6</text><text x="546.80" y="554.49" text-anchor="end">0</text><text x="546.80" y="542.96" text-anchor="end">5</text><text x="546.80" y="531.43" text-anchor="end">10</text><text x="546.80" y="519.89" text-anchor="end">15</text><text x="546.80" y="508.36" text-anchor="end">20</text><text x="546.80" y="496.83" text-anchor="end">25</text><text x="546.80" y="485.29" text-anchor="end">30</text><text x="546.80" y="473.76" text-anchor="end">35</text><text x="546.80" y="462.23" text-anchor="end">40</text><text x="546.80" y="450.69" text-anchor="end">45</text></g>
<polyline points="559.64,551.97 560.71,551.81 561.78,551.62 562.85,551.39 563.92,551.13 565.00,550.81 566.07,550.45 567.14,550.02 568.21,549.53 569.28,548.97 570.35,548.33 571.42,547.60 572.50,546.77 573.57,545.84 574.64,544.81 575.71,543.65 576.78,542.38 577.85,540.98 578.92,539.45 580.00,537.79 581.07,535.99 582.14,534.07 583.21,532.01 584.28,529.84 585.35,527.55 586.43,525.15 587.50,522.67 588.57,520.11 589.64,517.49 590.71,514.84 591.78,512.17 592.85,509.50 593.93,506.87 595.00,504.30 596.07,501.82 597.14,499.46 598.21,497.24 599.28,495.18 600.35,493.32 601.43,491.68 602.50,490.28 603.57,489.13 604.64,488.26 605.71,487.67 606.78,487.38 607.86,487.38 608.93,487.67 610.00,488.26 611.07,489.13 612.14,490.28 613.21,491.68 614.28,493.32 615.36,495.18 616.43,497.24 617.50,499.46 618.57,501.82 619.64,504.30 620.71,506.87 621.78,509.50 622.86,512.17 623.93,514.84 625.00,517.49 626.07,520.11 627.14,522.67 628.21,525.15 629.29,527.55 630.36,529.84 631.43,532.01 632.50,534.07 633.57,535.99 634.64,537.79 635.71,539.45 636.79,540.98 637.86,542.38 638.93,543.65 640.00,544.81 641.07,545.84 642.14,546.77 643.21,547.60 644.29,548.33 645.36,548.97 646.43,549.53 647.50,550.02 648.57,550.45 649.64,550.81 650.72,551.13 651.79,551.39 652.86,551.62 653.93,551.81 655.00,551.97" fill="none" stroke="#ff0000" stroke-width="0.85"/>
<text x="614.60" y="445.2" text-anchor="middle" font-size="4.6" font-weight="bold" fill="#222">C<tspan font-size="3.8" dy="1.6" font-style="italic">dpe</tspan><tspan dy="-1.6" font-style="italic">=38</tspan></text>
<text x="614.60" y="565" text-anchor="middle" font-size="4.4" fill="#1e1e1e">Amplitude (mv)</text>
<text transform="translate(539.40 500.8) rotate(-90)" text-anchor="middle" font-size="4.3" fill="#1e1e1e">Frequency</text>
<text x="620.00" y="499.70" font-size="3.6" fill="#222">&#956;=4.83</text>
<text x="623.10" y="503.90" font-size="3.6" fill="#222">&#963;=0.36</text>
</svg>
</body></html>
